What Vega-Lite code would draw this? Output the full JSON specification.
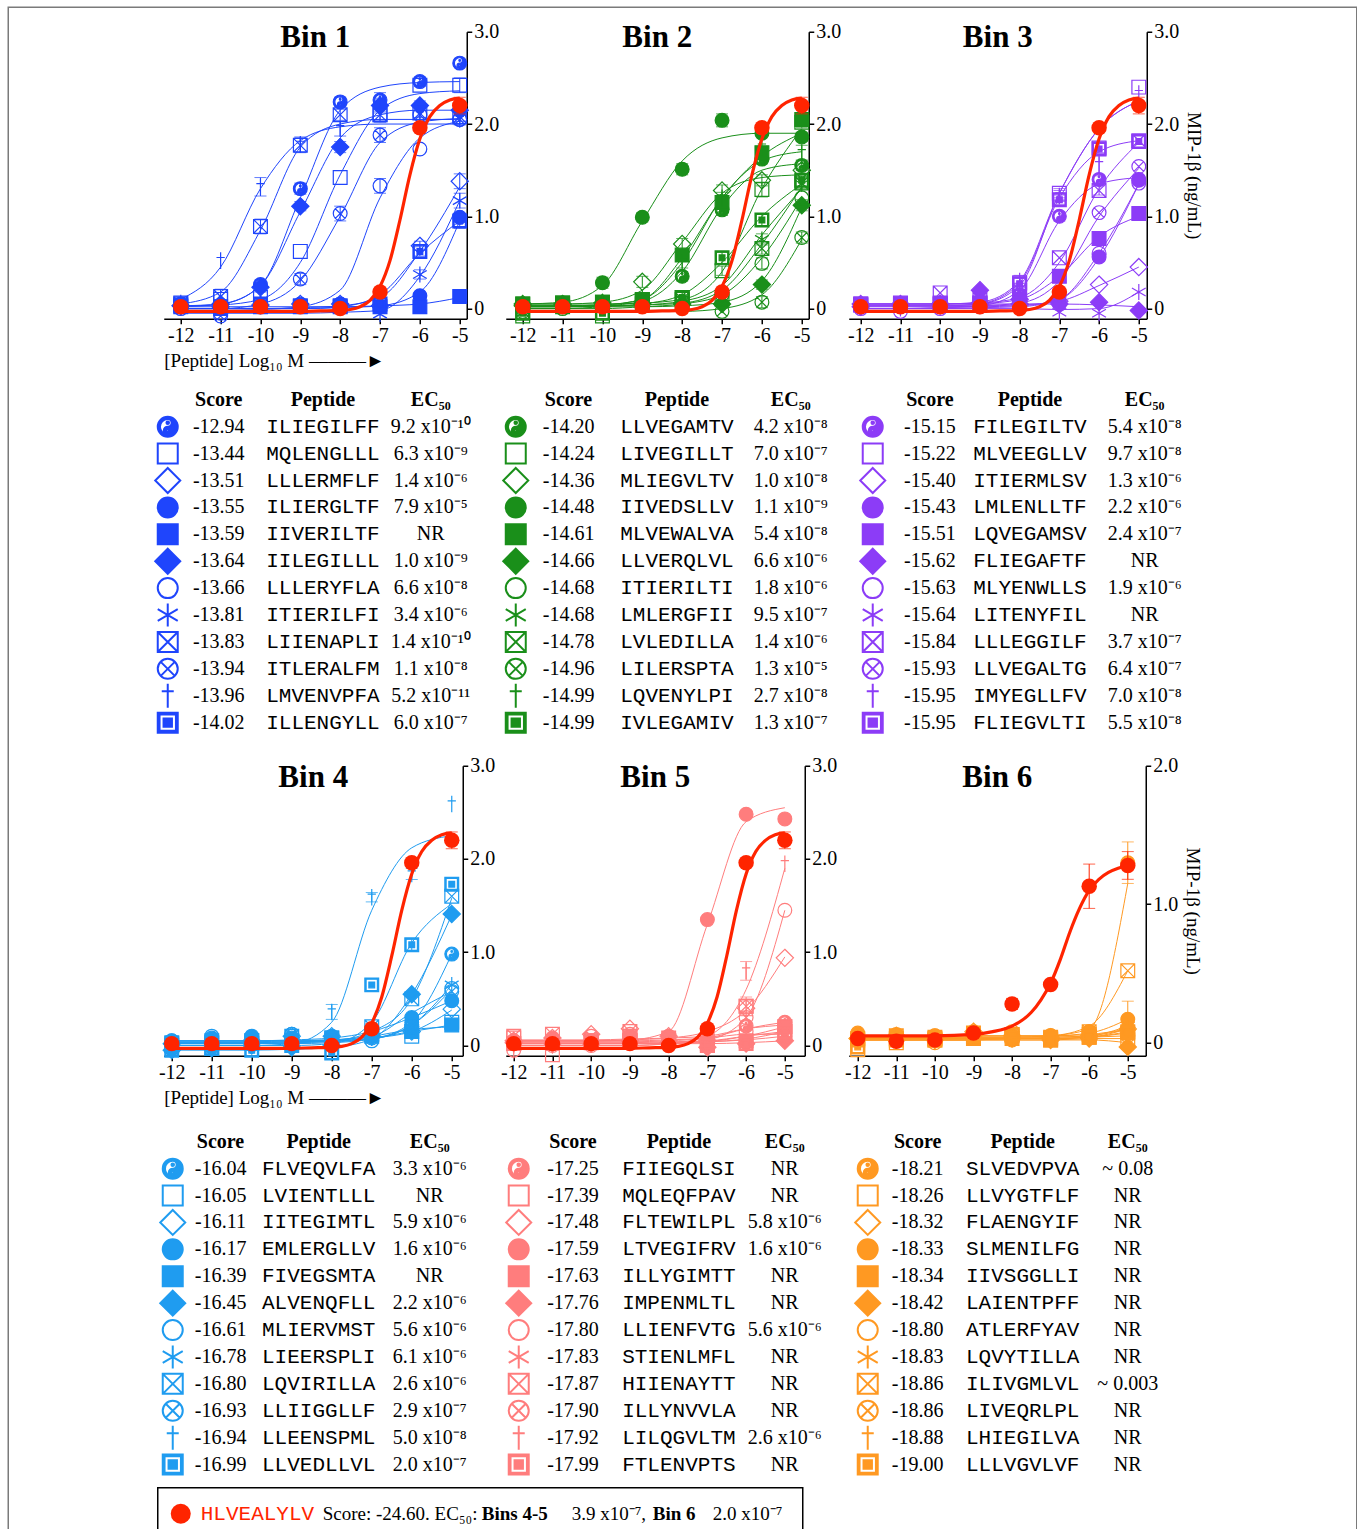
{
"$schema": "https://vega.github.io/schema/vega-lite/v6.json",
"background": "white",
"padding": {"left": 6.75, "top": 5.75, "right": 0, "bottom": 0},
"config": {
  "view": {"stroke": null},
  "axis": {"domainColor": "#000", "domainWidth": 1.5, "tickColor": "#000", "tickWidth": 1.5, "tickSize": 5, "labelFont": "Liberation Serif", "labelFontSize": 20, "labelColor": "#000", "labelPadding": 2, "grid": false, "titleFont": "Liberation Serif", "titleFontSize": 19, "titleFontWeight": "normal", "titleColor": "#000", "labelFlush": false, "labelOverlap": false},
  "text": {"font": "Liberation Serif", "fontSize": 20, "color": "#000"}
},
"datasets": {
"ref": [{"x":-12,"y":0.02},{"x":-11,"y":0.02},{"x":-10,"y":0.02},{"x":-9,"y":0.02},{"x":-8,"y":0.0},{"x":-7,"y":0.18},{"x":-6,"y":1.96},{"x":-5,"y":2.2,"e":0.09}],
"refc": [{"x":-12,"y":-0.03},{"x":-11,"y":-0.03},{"x":-10,"y":-0.03},{"x":-9,"y":-0.03},{"x":-8.5,"y":-0.025},{"x":-8,"y":-0.02},{"x":-7.75,"y":-0.01},{"x":-7.5,"y":0.02},{"x":-7.25,"y":0.09},{"x":-7,"y":0.24},{"x":-6.75,"y":0.52},{"x":-6.5,"y":0.96},{"x":-6.25,"y":1.45},{"x":-6,"y":1.84},{"x":-5.75,"y":2.08},{"x":-5.5,"y":2.2},{"x":-5.25,"y":2.26},{"x":-5,"y":2.28}],
"ref6": [{"x":-12,"y":0.03},{"x":-11,"y":0.01},{"x":-10,"y":0.02},{"x":-9,"y":0.07},{"x":-8,"y":0.28,"e":0.04},{"x":-7,"y":0.42},{"x":-6,"y":1.13,"e":0.16},{"x":-5,"y":1.28,"e":0.1}],
"refc6": [{"x":-12,"y":0.05},{"x":-11,"y":0.05},{"x":-10,"y":0.05},{"x":-9,"y":0.06},{"x":-8.5,"y":0.08},{"x":-8,"y":0.12},{"x":-7.75,"y":0.16},{"x":-7.5,"y":0.22},{"x":-7.25,"y":0.31},{"x":-7,"y":0.43},{"x":-6.75,"y":0.6},{"x":-6.5,"y":0.8},{"x":-6.25,"y":0.97},{"x":-6,"y":1.1},{"x":-5.75,"y":1.18},{"x":-5.5,"y":1.23},{"x":-5.25,"y":1.26},{"x":-5,"y":1.28}],
"b1": [
{"s":"yy","x":-12,"y":0.05,"f":0.03},{"s":"yy","x":-11,"y":0.04,"f":0.05},{"s":"yy","x":-10,"y":0.26,"f":0.25,"e":0.05},{"s":"yy","x":-9,"y":1.3,"f":1.2,"e":0.06},{"s":"yy","x":-8,"y":2.24,"f":2.15,"e":0.05},{"s":"yy","x":-7,"y":2.26,"f":2.4,"e":0.08},{"s":"yy","x":-6,"y":2.46,"f":2.45,"e":0.05},{"s":"yy","x":-5,"y":2.66,"f":2.46},
{"s":"osq","x":-12,"y":0.06,"f":0.03},{"s":"osq","x":-11,"y":0.1,"f":0.04},{"s":"osq","x":-10,"y":0.12,"f":0.1},{"s":"osq","x":-9,"y":0.62,"f":0.5},{"s":"osq","x":-8,"y":1.42,"f":1.45},{"s":"osq","x":-7,"y":2.1,"f":2.15,"e":0.08},{"s":"osq","x":-6,"y":2.42,"f":2.33},{"s":"osq","x":-5,"y":2.42,"f":2.36,"e":0.08},
{"s":"odi","x":-12,"y":0.03,"f":0},{"s":"odi","x":-11,"y":0.02,"f":0},{"s":"odi","x":-10,"y":0.04,"f":0},{"s":"odi","x":-9,"y":0.05,"f":0.01},{"s":"odi","x":-8,"y":0.05,"f":0.03},{"s":"odi","x":-7,"y":0.03,"f":0.12},{"s":"odi","x":-6,"y":0.68,"f":0.62,"e":0.05},{"s":"odi","x":-5,"y":1.38,"f":1.32,"e":0.08},
{"s":"fci","x":-12,"y":0.02,"f":0},{"s":"fci","x":-11,"y":0,"f":0},{"s":"fci","x":-10,"y":0.03,"f":0},{"s":"fci","x":-9,"y":0.04,"f":0},{"s":"fci","x":-8,"y":0.05,"f":0.01},{"s":"fci","x":-7,"y":0.02,"f":0.03},{"s":"fci","x":-6,"y":0.14,"f":0.18},{"s":"fci","x":-5,"y":0.99,"f":0.95},
{"s":"fsq","x":-12,"y":0.02,"f":0.02},{"s":"fsq","x":-11,"y":0,"f":0.02},{"s":"fsq","x":-10,"y":0.02,"f":0.02},{"s":"fsq","x":-9,"y":0.02,"f":0.02},{"s":"fsq","x":-8,"y":0.03,"f":0.02},{"s":"fsq","x":-7,"y":0.02,"f":0.03},{"s":"fsq","x":-6,"y":0.02,"f":0.05},{"s":"fsq","x":-5,"y":0.13,"f":0.12,"e":0.06},
{"s":"fdi","x":-12,"y":0.03,"f":0.02},{"s":"fdi","x":-11,"y":0.05,"f":0.05},{"s":"fdi","x":-10,"y":0.23,"f":0.25,"e":0.05},{"s":"fdi","x":-9,"y":1.11,"f":1.05,"e":0.05},{"s":"fdi","x":-8,"y":1.75,"f":1.85,"e":0.06},{"s":"fdi","x":-7,"y":2.2,"f":2.1,"e":0.06},{"s":"fdi","x":-6,"y":2.2,"f":2.15,"e":0.05},{"s":"fdi","x":-5,"y":2.15,"f":2.15,"e":0.05},
{"s":"oci","x":-12,"y":0.02,"f":-0.02},{"s":"oci","x":-11,"y":-0.05,"f":-0.02},{"s":"oci","x":-10,"y":0.02,"f":-0.01},{"s":"oci","x":-9,"y":0.05,"f":0.02},{"s":"oci","x":-8,"y":0.05,"f":0.2},{"s":"oci","x":-7,"y":1.33,"f":1.2,"e":0.08},{"s":"oci","x":-6,"y":1.73,"f":1.85},{"s":"oci","x":-5,"y":2.05,"f":2.03,"e":0.06},
{"s":"ast","x":-12,"y":0.02,"f":-0.05},{"s":"ast","x":-11,"y":0.05,"f":-0.05},{"s":"ast","x":-10,"y":0.04,"f":-0.05},{"s":"ast","x":-9,"y":0.03,"f":-0.05},{"s":"ast","x":-8,"y":0.02,"f":-0.04},{"s":"ast","x":-7,"y":-0.06,"f":-0.02},{"s":"ast","x":-6,"y":0.37,"f":0.35,"e":0.05},{"s":"ast","x":-5,"y":1.17,"f":1.17,"e":0.08},
{"s":"bx","x":-12,"y":0.05,"f":0.05},{"s":"bx","x":-11,"y":0.13,"f":0.18,"e":0.08},{"s":"bx","x":-10,"y":0.89,"f":0.85,"e":0.08},{"s":"bx","x":-9,"y":1.77,"f":1.75,"e":0.08},{"s":"bx","x":-8,"y":2.1,"f":2.0,"e":0.06},{"s":"bx","x":-7,"y":2.1,"f":2.05,"e":0.06},{"s":"bx","x":-6,"y":2.12,"f":2.05,"e":0.05},{"s":"bx","x":-5,"y":2.08,"f":2.05,"e":0.05},
{"s":"cx","x":-12,"y":0,"f":0},{"s":"cx","x":-11,"y":-0.08,"f":0},{"s":"cx","x":-10,"y":0.02,"f":0.05},{"s":"cx","x":-9,"y":0.32,"f":0.3,"e":0.06},{"s":"cx","x":-8,"y":1.03,"f":1.0,"e":0.08},{"s":"cx","x":-7,"y":1.88,"f":1.8,"e":0.08},{"s":"cx","x":-6,"y":2.1,"f":2.02,"e":0.05},{"s":"cx","x":-5,"y":2.05,"f":2.06,"e":0.05},
{"s":"dag","x":-12,"y":0.06,"f":0.1},{"s":"dag","x":-11,"y":0.52,"f":0.45},{"s":"dag","x":-10,"y":1.32,"f":1.3,"e":0.1},{"s":"dag","x":-9,"y":1.78,"f":1.82,"e":0.08},{"s":"dag","x":-8,"y":1.95,"f":1.97,"e":0.08},{"s":"dag","x":-7,"y":2.2,"f":2.0,"e":0.08},{"s":"dag","x":-6,"y":2.1,"f":2.0},{"s":"dag","x":-5,"y":2.05,"f":2.0},
{"s":"sqd","x":-12,"y":0.03,"f":0},{"s":"sqd","x":-11,"y":0.02,"f":0},{"s":"sqd","x":-10,"y":0.05,"f":0},{"s":"sqd","x":-9,"y":0.03,"f":0},{"s":"sqd","x":-8,"y":0.02,"f":0.02},{"s":"sqd","x":-7,"y":0.05,"f":0.15},{"s":"sqd","x":-6,"y":0.62,"f":0.6,"e":0.05},{"s":"sqd","x":-5,"y":0.95,"f":0.95,"e":0.08}
],
"b2": [
{"s":"yy","x":-12,"y":0.03,"f":0.02},{"s":"yy","x":-11,"y":0.05,"f":0.02},{"s":"yy","x":-10,"y":0.05,"f":0.03},{"s":"yy","x":-9,"y":0.08,"f":0.08},{"s":"yy","x":-8,"y":0.35,"f":0.4,"e":0.05},{"s":"yy","x":-7,"y":1.07,"f":1.1,"e":0.06},{"s":"yy","x":-6,"y":1.62,"f":1.5,"e":0.05},{"s":"yy","x":-5,"y":1.55,"f":1.57,"e":0.05},
{"s":"osq","x":-12,"y":-0.08,"f":0.05},{"s":"osq","x":-11,"y":0.05,"f":0.05},{"s":"osq","x":-10,"y":-0.08,"f":0.05},{"s":"osq","x":-9,"y":0.1,"f":0.06},{"s":"osq","x":-8,"y":0.12,"f":0.1},{"s":"osq","x":-7,"y":0.41,"f":0.4,"e":0.05},{"s":"osq","x":-6,"y":1.29,"f":1.3,"e":0.08},{"s":"osq","x":-5,"y":2.02,"f":1.95,"e":0.06},
{"s":"odi","x":-12,"y":0.05,"f":0.05},{"s":"odi","x":-11,"y":0.04,"f":0.05},{"s":"odi","x":-10,"y":0.06,"f":0.07},{"s":"odi","x":-9,"y":0.29,"f":0.2,"e":0.06},{"s":"odi","x":-8,"y":0.7,"f":0.72,"e":0.06},{"s":"odi","x":-7,"y":1.28,"f":1.25,"e":0.06},{"s":"odi","x":-6,"y":1.39,"f":1.42,"e":0.06},{"s":"odi","x":-5,"y":1.5,"f":1.45},
{"s":"fci","x":-12,"y":0.02,"f":0.05},{"s":"fci","x":-11,"y":0.06,"f":0.07},{"s":"fci","x":-10,"y":0.28,"f":0.25,"e":0.06},{"s":"fci","x":-9,"y":0.99,"f":0.95,"e":0.05},{"s":"fci","x":-8,"y":1.51,"f":1.6,"e":0.06},{"s":"fci","x":-7,"y":2.04,"f":1.85,"e":0.07},{"s":"fci","x":-6,"y":1.9,"f":1.9},{"s":"fci","x":-5,"y":1.86,"f":1.9,"e":0.05},
{"s":"fsq","x":-12,"y":0.05,"f":0.03},{"s":"fsq","x":-11,"y":0.06,"f":0.03},{"s":"fsq","x":-10,"y":0.07,"f":0.04},{"s":"fsq","x":-9,"y":0.1,"f":0.1},{"s":"fsq","x":-8,"y":0.58,"f":0.55,"e":0.05},{"s":"fsq","x":-7,"y":1.15,"f":1.2,"e":0.06},{"s":"fsq","x":-6,"y":1.69,"f":1.65,"e":0.05},{"s":"fsq","x":-5,"y":2.05,"f":1.9,"e":0.05},
{"s":"fdi","x":-12,"y":0.03,"f":0.02},{"s":"fdi","x":-11,"y":0.05,"f":0.02},{"s":"fdi","x":-10,"y":0.03,"f":0.02},{"s":"fdi","x":-9,"y":0.05,"f":0.02},{"s":"fdi","x":-8,"y":0.05,"f":0.03},{"s":"fdi","x":-7,"y":0.05,"f":0.07},{"s":"fdi","x":-6,"y":0.26,"f":0.3,"e":0.05},{"s":"fdi","x":-5,"y":1.12,"f":1.1,"e":0.06},
{"s":"oci","x":-12,"y":0,"f":0},{"s":"oci","x":-11,"y":0.02,"f":0},{"s":"oci","x":-10,"y":0.03,"f":0},{"s":"oci","x":-9,"y":0.05,"f":0.02},{"s":"oci","x":-8,"y":0.07,"f":0.05},{"s":"oci","x":-7,"y":0.15,"f":0.15},{"s":"oci","x":-6,"y":0.49,"f":0.55,"e":0.06},{"s":"oci","x":-5,"y":1.2,"f":1.2},
{"s":"ast","x":-12,"y":0.02,"f":0.02},{"s":"ast","x":-11,"y":0.04,"f":0.02},{"s":"ast","x":-10,"y":0.05,"f":0.03},{"s":"ast","x":-9,"y":0.08,"f":0.04},{"s":"ast","x":-8,"y":0.1,"f":0.08},{"s":"ast","x":-7,"y":0.12,"f":0.25},{"s":"ast","x":-6,"y":0.75,"f":0.8,"e":0.06},{"s":"ast","x":-5,"y":1.35,"f":1.3,"e":0.06},
{"s":"bx","x":-12,"y":0.05,"f":0.03},{"s":"bx","x":-11,"y":0.06,"f":0.03},{"s":"bx","x":-10,"y":0.07,"f":0.03},{"s":"bx","x":-9,"y":0.08,"f":0.04},{"s":"bx","x":-8,"y":0.1,"f":0.06},{"s":"bx","x":-7,"y":0.1,"f":0.2},{"s":"bx","x":-6,"y":0.65,"f":0.7,"e":0.06},{"s":"bx","x":-5,"y":1.36,"f":1.32,"e":0.06},
{"s":"cx","x":-12,"y":-0.03,"f":-0.03},{"s":"cx","x":-11,"y":0,"f":-0.03},{"s":"cx","x":-10,"y":0.02,"f":-0.03},{"s":"cx","x":-9,"y":0.05,"f":-0.03},{"s":"cx","x":-8,"y":0.02,"f":-0.03},{"s":"cx","x":-7,"y":-0.03,"f":0},{"s":"cx","x":-6,"y":0.07,"f":0.15,"e":0.06},{"s":"cx","x":-5,"y":0.77,"f":0.75,"e":0.06},
{"s":"dag","x":-12,"y":0.05,"f":0.03},{"s":"dag","x":-11,"y":0.05,"f":0.03},{"s":"dag","x":-10,"y":0.07,"f":0.04},{"s":"dag","x":-9,"y":0.1,"f":0.1},{"s":"dag","x":-8,"y":0.5,"f":0.5,"e":0.06},{"s":"dag","x":-7,"y":1.2,"f":1.2,"e":0.06},{"s":"dag","x":-6,"y":1.75,"f":1.6},{"s":"dag","x":-5,"y":1.69,"f":1.7,"e":0.08},
{"s":"sqd","x":-12,"y":-0.05,"f":0},{"s":"sqd","x":-11,"y":0.02,"f":0},{"s":"sqd","x":-10,"y":-0.05,"f":0.02},{"s":"sqd","x":-9,"y":0.05,"f":0.05},{"s":"sqd","x":-8,"y":0.12,"f":0.15},{"s":"sqd","x":-7,"y":0.55,"f":0.5,"e":0.06},{"s":"sqd","x":-6,"y":0.96,"f":1.0,"e":0.06},{"s":"sqd","x":-5,"y":1.39,"f":1.35}
],
"b3": [
{"s":"yy","x":-12,"y":0.03,"f":0},{"s":"yy","x":-11,"y":0.02,"f":0},{"s":"yy","x":-10,"y":0.02,"f":0.01},{"s":"yy","x":-9,"y":0.05,"f":0.03},{"s":"yy","x":-8,"y":0.15,"f":0.2},{"s":"yy","x":-7,"y":1.0,"f":0.95,"e":0.05},{"s":"yy","x":-6,"y":1.4,"f":1.35},{"s":"yy","x":-5,"y":1.4,"f":1.42},
{"s":"osq","x":-12,"y":0.05,"f":0.03},{"s":"osq","x":-11,"y":0.06,"f":0.03},{"s":"osq","x":-10,"y":0.05,"f":0.03},{"s":"osq","x":-9,"y":0.06,"f":0.05},{"s":"osq","x":-8,"y":0.28,"f":0.25,"e":0.05},{"s":"osq","x":-7,"y":1.25,"f":1.25,"e":0.05},{"s":"osq","x":-6,"y":1.74,"f":1.95,"e":0.05},{"s":"osq","x":-5,"y":2.4,"f":2.25},
{"s":"odi","x":-12,"y":0.05,"f":0.03},{"s":"odi","x":-11,"y":0.04,"f":0.03},{"s":"odi","x":-10,"y":0.05,"f":0.03},{"s":"odi","x":-9,"y":0.06,"f":0.03},{"s":"odi","x":-8,"y":0.05,"f":0.04},{"s":"odi","x":-7,"y":0.08,"f":0.08},{"s":"odi","x":-6,"y":0.26,"f":0.25},{"s":"odi","x":-5,"y":0.45,"f":0.45},
{"s":"fci","x":-12,"y":0.02,"f":0},{"s":"fci","x":-11,"y":0.03,"f":0},{"s":"fci","x":-10,"y":0.03,"f":0.01},{"s":"fci","x":-9,"y":0.05,"f":0.02},{"s":"fci","x":-8,"y":0.05,"f":0.03},{"s":"fci","x":-7,"y":0.08,"f":0.1},{"s":"fci","x":-6,"y":0.56,"f":0.55,"e":0.05},{"s":"fci","x":-5,"y":1.39,"f":1.35,"e":0.05},
{"s":"fsq","x":-12,"y":0.04,"f":0.03},{"s":"fsq","x":-11,"y":0.05,"f":0.03},{"s":"fsq","x":-10,"y":0.06,"f":0.03},{"s":"fsq","x":-9,"y":0.05,"f":0.05},{"s":"fsq","x":-8,"y":0.1,"f":0.1},{"s":"fsq","x":-7,"y":0.35,"f":0.35},{"s":"fsq","x":-6,"y":0.76,"f":0.78},{"s":"fsq","x":-5,"y":1.03,"f":1.0},
{"s":"fdi","x":-12,"y":0.02,"f":0.05},{"s":"fdi","x":-11,"y":0.05,"f":0.05},{"s":"fdi","x":-10,"y":0.05,"f":0.05},{"s":"fdi","x":-9,"y":0.2,"f":0.05},{"s":"fdi","x":-8,"y":0.1,"f":0.05},{"s":"fdi","x":-7,"y":0.05,"f":0.05},{"s":"fdi","x":-6,"y":0.07,"f":0.04},{"s":"fdi","x":-5,"y":-0.02,"f":0.02},
{"s":"oci","x":-12,"y":0,"f":0},{"s":"oci","x":-11,"y":-0.03,"f":0},{"s":"oci","x":-10,"y":0,"f":0},{"s":"oci","x":-9,"y":0.02,"f":0.01},{"s":"oci","x":-8,"y":0.05,"f":0.02},{"s":"oci","x":-7,"y":0.05,"f":0.1},{"s":"oci","x":-6,"y":0.6,"f":0.6},{"s":"oci","x":-5,"y":1.36,"f":1.35},
{"s":"ast","x":-12,"y":0.02,"f":0},{"s":"ast","x":-11,"y":0,"f":0},{"s":"ast","x":-10,"y":0.02,"f":0},{"s":"ast","x":-9,"y":0.05,"f":0},{"s":"ast","x":-8,"y":0.02,"f":0},{"s":"ast","x":-7,"y":-0.04,"f":-0.01},{"s":"ast","x":-6,"y":-0.05,"f":0},{"s":"ast","x":-5,"y":0.18,"f":0.18},
{"s":"bx","x":-12,"y":0.05,"f":0.05},{"s":"bx","x":-11,"y":0.05,"f":0.05},{"s":"bx","x":-10,"y":0.17,"f":0.05},{"s":"bx","x":-9,"y":0.1,"f":0.06},{"s":"bx","x":-8,"y":0.2,"f":0.12},{"s":"bx","x":-7,"y":0.55,"f":0.5},{"s":"bx","x":-6,"y":1.28,"f":1.3,"e":0.05},{"s":"bx","x":-5,"y":1.82,"f":1.8},
{"s":"cx","x":-12,"y":0.02,"f":0.02},{"s":"cx","x":-11,"y":0.03,"f":0.02},{"s":"cx","x":-10,"y":0.04,"f":0.02},{"s":"cx","x":-9,"y":0.05,"f":0.03},{"s":"cx","x":-8,"y":0.08,"f":0.06},{"s":"cx","x":-7,"y":0.15,"f":0.3},{"s":"cx","x":-6,"y":1.04,"f":1.0},{"s":"cx","x":-5,"y":1.54,"f":1.52},
{"s":"dag","x":-12,"y":0.05,"f":0.05},{"s":"dag","x":-11,"y":0.04,"f":0.05},{"s":"dag","x":-10,"y":0.05,"f":0.05},{"s":"dag","x":-9,"y":0.06,"f":0.07},{"s":"dag","x":-8,"y":0.3,"f":0.3,"e":0.06},{"s":"dag","x":-7,"y":1.22,"f":1.25,"e":0.06},{"s":"dag","x":-6,"y":1.56,"f":1.95,"e":0.12},{"s":"dag","x":-5,"y":2.33,"f":2.25},
{"s":"sqd","x":-12,"y":0.04,"f":0.05},{"s":"sqd","x":-11,"y":0.05,"f":0.05},{"s":"sqd","x":-10,"y":0.05,"f":0.05},{"s":"sqd","x":-9,"y":0.06,"f":0.06},{"s":"sqd","x":-8,"y":0.27,"f":0.28},{"s":"sqd","x":-7,"y":1.18,"f":1.2,"e":0.05},{"s":"sqd","x":-6,"y":1.73,"f":1.7},{"s":"sqd","x":-5,"y":1.81,"f":1.82}
],
"b4": [
{"s":"yy","x":-12,"y":0.03,"f":0.02},{"s":"yy","x":-11,"y":0.05,"f":0.02},{"s":"yy","x":-10,"y":0.04,"f":0.02},{"s":"yy","x":-9,"y":0.03,"f":0.02},{"s":"yy","x":-8,"y":0.05,"f":0.03},{"s":"yy","x":-7,"y":0.1,"f":0.07},{"s":"yy","x":-6,"y":0.25,"f":0.25},{"s":"yy","x":-5,"y":0.98,"f":0.98},
{"s":"osq","x":-12,"y":0,"f":0.03},{"s":"osq","x":-11,"y":-0.03,"f":0.03},{"s":"osq","x":-10,"y":0.02,"f":0.03},{"s":"osq","x":-9,"y":0.05,"f":0.04},{"s":"osq","x":-8,"y":0.08,"f":0.05},{"s":"osq","x":-7,"y":0.12,"f":0.08},{"s":"osq","x":-6,"y":0.1,"f":0.15},{"s":"osq","x":-5,"y":0.25,"f":0.22},
{"s":"odi","x":-12,"y":0.02,"f":0.03},{"s":"odi","x":-11,"y":0.03,"f":0.03},{"s":"odi","x":-10,"y":0.05,"f":0.03},{"s":"odi","x":-9,"y":0.1,"f":0.04},{"s":"odi","x":-8,"y":0.1,"f":0.05},{"s":"odi","x":-7,"y":0.1,"f":0.08},{"s":"odi","x":-6,"y":0.15,"f":0.15},{"s":"odi","x":-5,"y":0.39,"f":0.38},
{"s":"fci","x":-12,"y":0.05,"f":0.05},{"s":"fci","x":-11,"y":0.08,"f":0.05},{"s":"fci","x":-10,"y":0.1,"f":0.05},{"s":"fci","x":-9,"y":0.08,"f":0.06},{"s":"fci","x":-8,"y":0.1,"f":0.08},{"s":"fci","x":-7,"y":0.15,"f":0.15},{"s":"fci","x":-6,"y":0.3,"f":0.3},{"s":"fci","x":-5,"y":0.48,"f":0.48},
{"s":"fsq","x":-12,"y":0.03,"f":0.04},{"s":"fsq","x":-11,"y":0.05,"f":0.04},{"s":"fsq","x":-10,"y":0.05,"f":0.04},{"s":"fsq","x":-9,"y":0.03,"f":0.05},{"s":"fsq","x":-8,"y":0.05,"f":0.06},{"s":"fsq","x":-7,"y":0.1,"f":0.1},{"s":"fsq","x":-6,"y":0.15,"f":0.17},{"s":"fsq","x":-5,"y":0.22,"f":0.2},
{"s":"fdi","x":-12,"y":-0.05,"f":-0.05},{"s":"fdi","x":-11,"y":-0.03,"f":-0.05},{"s":"fdi","x":-10,"y":0,"f":-0.05},{"s":"fdi","x":-9,"y":-0.02,"f":-0.04},{"s":"fdi","x":-8,"y":0,"f":-0.02},{"s":"fdi","x":-7,"y":0.1,"f":0.07},{"s":"fdi","x":-6,"y":0.55,"f":0.55},{"s":"fdi","x":-5,"y":1.41,"f":1.4},
{"s":"oci","x":-12,"y":0.05,"f":0.05},{"s":"oci","x":-11,"y":0.1,"f":0.05},{"s":"oci","x":-10,"y":0.05,"f":0.05},{"s":"oci","x":-9,"y":0.12,"f":0.05},{"s":"oci","x":-8,"y":0.08,"f":0.05},{"s":"oci","x":-7,"y":0.05,"f":0.07},{"s":"oci","x":-6,"y":0.2,"f":0.22},{"s":"oci","x":-5,"y":0.61,"f":0.6},
{"s":"ast","x":-12,"y":0.02,"f":0.02},{"s":"ast","x":-11,"y":0,"f":0.02},{"s":"ast","x":-10,"y":0.03,"f":0.02},{"s":"ast","x":-9,"y":0.05,"f":0.03},{"s":"ast","x":-8,"y":0.05,"f":0.04},{"s":"ast","x":-7,"y":0.08,"f":0.07},{"s":"ast","x":-6,"y":0.2,"f":0.22},{"s":"ast","x":-5,"y":0.65,"f":0.65},
{"s":"bx","x":-12,"y":0.02,"f":0.02},{"s":"bx","x":-11,"y":0.03,"f":0.02},{"s":"bx","x":-10,"y":0.05,"f":0.02},{"s":"bx","x":-9,"y":0.1,"f":0.03},{"s":"bx","x":-8,"y":0.08,"f":0.05},{"s":"bx","x":-7,"y":0.2,"f":0.15},{"s":"bx","x":-6,"y":0.5,"f":0.5},{"s":"bx","x":-5,"y":1.6,"f":1.58},
{"s":"cx","x":-12,"y":0,"f":0.05},{"s":"cx","x":-11,"y":0.05,"f":0.05},{"s":"cx","x":-10,"y":0.08,"f":0.05},{"s":"cx","x":-9,"y":0.12,"f":0.05},{"s":"cx","x":-8,"y":0.05,"f":0.06},{"s":"cx","x":-7,"y":0.08,"f":0.1},{"s":"cx","x":-6,"y":0.2,"f":0.35},{"s":"cx","x":-5,"y":0.58,"f":0.58},
{"s":"dag","x":-12,"y":0,"f":0},{"s":"dag","x":-11,"y":0.05,"f":0},{"s":"dag","x":-10,"y":0.08,"f":0},{"s":"dag","x":-9,"y":-0.02,"f":0.02},{"s":"dag","x":-8,"y":0.36,"f":0.25,"e":0.08},{"s":"dag","x":-7,"y":1.59,"f":1.45,"e":0.05},{"s":"dag","x":-6,"y":1.84,"f":2.12,"e":0.06},{"s":"dag","x":-5,"y":2.59,"f":2.25},
{"s":"sqd","x":-12,"y":-0.05,"f":0},{"s":"sqd","x":-11,"y":-0.03,"f":0},{"s":"sqd","x":-10,"y":-0.05,"f":0},{"s":"sqd","x":-9,"y":0,"f":0},{"s":"sqd","x":-8,"y":-0.08,"f":0.02},{"s":"sqd","x":-7,"y":0.65,"f":0.25},{"s":"sqd","x":-6,"y":1.08,"f":1.1,"e":0.06},{"s":"sqd","x":-5,"y":1.73,"f":1.52}
],
"b5": [
{"s":"yy","x":-12,"y":0.05,"f":0.04},{"s":"yy","x":-11,"y":0.02,"f":0.04},{"s":"yy","x":-10,"y":0.03,"f":0.04},{"s":"yy","x":-9,"y":0.06,"f":0.04},{"s":"yy","x":-8,"y":0.05,"f":0.05},{"s":"yy","x":-7,"y":0.05,"f":0.08},{"s":"yy","x":-6,"y":0.21,"f":0.18},{"s":"yy","x":-5,"y":0.25,"f":0.25},
{"s":"osq","x":-12,"y":0.08,"f":0.03},{"s":"osq","x":-11,"y":-0.1,"f":0.03},{"s":"osq","x":-10,"y":0.05,"f":0.03},{"s":"osq","x":-9,"y":0.1,"f":0.03},{"s":"osq","x":-8,"y":0.05,"f":0.04},{"s":"osq","x":-7,"y":0,"f":0.05},{"s":"osq","x":-6,"y":0.42,"f":0.1},{"s":"osq","x":-5,"y":0.15,"f":0.15},
{"s":"odi","x":-12,"y":0.05,"f":0.05},{"s":"odi","x":-11,"y":0.08,"f":0.05},{"s":"odi","x":-10,"y":0.12,"f":0.05},{"s":"odi","x":-9,"y":0.18,"f":0.06},{"s":"odi","x":-8,"y":0.1,"f":0.08},{"s":"odi","x":-7,"y":0.05,"f":0.15},{"s":"odi","x":-6,"y":0.4,"f":0.38,"e":0.08},{"s":"odi","x":-5,"y":0.94,"f":0.95},
{"s":"fci","x":-12,"y":0.05,"f":0.05},{"s":"fci","x":-11,"y":0.08,"f":0.05},{"s":"fci","x":-10,"y":0.05,"f":0.05},{"s":"fci","x":-9,"y":0.1,"f":0.06},{"s":"fci","x":-8,"y":0.1,"f":0.15},{"s":"fci","x":-7,"y":1.35,"f":1.3},{"s":"fci","x":-6,"y":2.48,"f":2.4},{"s":"fci","x":-5,"y":2.43,"f":2.55},
{"s":"fsq","x":-12,"y":0.02,"f":0.02},{"s":"fsq","x":-11,"y":0.03,"f":0.02},{"s":"fsq","x":-10,"y":0.04,"f":0.02},{"s":"fsq","x":-9,"y":0.05,"f":0.02},{"s":"fsq","x":-8,"y":0.05,"f":0.02},{"s":"fsq","x":-7,"y":0.02,"f":0.04},{"s":"fsq","x":-6,"y":0.05,"f":0.1},{"s":"fsq","x":-5,"y":0.2,"f":0.2},
{"s":"fdi","x":-12,"y":0.03,"f":0.02},{"s":"fdi","x":-11,"y":0.02,"f":0.02},{"s":"fdi","x":-10,"y":0.02,"f":0.02},{"s":"fdi","x":-9,"y":0.05,"f":0.02},{"s":"fdi","x":-8,"y":0.03,"f":0.02},{"s":"fdi","x":-7,"y":-0.02,"f":0.02},{"s":"fdi","x":-6,"y":0.02,"f":0.03},{"s":"fdi","x":-5,"y":0.05,"f":0.05},
{"s":"oci","x":-12,"y":-0.05,"f":0},{"s":"oci","x":-11,"y":0,"f":0},{"s":"oci","x":-10,"y":0,"f":0},{"s":"oci","x":-9,"y":0.05,"f":0},{"s":"oci","x":-8,"y":0.08,"f":0.02},{"s":"oci","x":-7,"y":0.02,"f":0.06},{"s":"oci","x":-6,"y":0.15,"f":0.3},{"s":"oci","x":-5,"y":1.45,"f":1.45},
{"s":"ast","x":-12,"y":0,"f":0.02},{"s":"ast","x":-11,"y":0.02,"f":0.02},{"s":"ast","x":-10,"y":0.02,"f":0.02},{"s":"ast","x":-9,"y":0.03,"f":0.02},{"s":"ast","x":-8,"y":0.05,"f":0.03},{"s":"ast","x":-7,"y":0.03,"f":0.04},{"s":"ast","x":-6,"y":0.05,"f":0.06},{"s":"ast","x":-5,"y":0.1,"f":0.1},
{"s":"bx","x":-12,"y":0.1,"f":0.06},{"s":"bx","x":-11,"y":0.12,"f":0.06},{"s":"bx","x":-10,"y":0.05,"f":0.06},{"s":"bx","x":-9,"y":0.15,"f":0.07},{"s":"bx","x":-8,"y":0.08,"f":0.08},{"s":"bx","x":-7,"y":0.05,"f":0.1},{"s":"bx","x":-6,"y":0.42,"f":0.18,"e":0.1},{"s":"bx","x":-5,"y":0.2,"f":0.22},
{"s":"cx","x":-12,"y":0.03,"f":0.05},{"s":"cx","x":-11,"y":0.05,"f":0.05},{"s":"cx","x":-10,"y":0.1,"f":0.05},{"s":"cx","x":-9,"y":0.12,"f":0.05},{"s":"cx","x":-8,"y":0.05,"f":0.06},{"s":"cx","x":-7,"y":0.05,"f":0.08},{"s":"cx","x":-6,"y":0.3,"f":0.12},{"s":"cx","x":-5,"y":0.1,"f":0.12},
{"s":"dag","x":-12,"y":-0.05,"f":0},{"s":"dag","x":-11,"y":0,"f":0},{"s":"dag","x":-10,"y":0.02,"f":0},{"s":"dag","x":-9,"y":0.05,"f":0},{"s":"dag","x":-8,"y":0.05,"f":0.02},{"s":"dag","x":-7,"y":0.05,"f":0.1},{"s":"dag","x":-6,"y":0.8,"f":0.6,"e":0.1},{"s":"dag","x":-5,"y":1.95,"f":1.9},
{"s":"sqd","x":-12,"y":0.02,"f":0.02},{"s":"sqd","x":-11,"y":0.02,"f":0.02},{"s":"sqd","x":-10,"y":0.03,"f":0.02},{"s":"sqd","x":-9,"y":0.05,"f":0.02},{"s":"sqd","x":-8,"y":0.05,"f":0.03},{"s":"sqd","x":-7,"y":0,"f":0.04},{"s":"sqd","x":-6,"y":0.02,"f":0.07},{"s":"sqd","x":-5,"y":0.15,"f":0.15}
],
"b6": [
{"s":"yy","x":-12,"y":0.05,"f":0.04},{"s":"yy","x":-11,"y":0.05,"f":0.04},{"s":"yy","x":-10,"y":0.03,"f":0.04},{"s":"yy","x":-9,"y":0.05,"f":0.04},{"s":"yy","x":-8,"y":0.04,"f":0.04},{"s":"yy","x":-7,"y":0.05,"f":0.05},{"s":"yy","x":-6,"y":0.08,"f":0.1},{"s":"yy","x":-5,"y":1.3,"f":1.15,"e":0.15},
{"s":"osq","x":-12,"y":-0.05,"f":0.02},{"s":"osq","x":-11,"y":0,"f":0.02},{"s":"osq","x":-10,"y":0.02,"f":0.02},{"s":"osq","x":-9,"y":0.03,"f":0.02},{"s":"osq","x":-8,"y":0.05,"f":0.02},{"s":"osq","x":-7,"y":0.02,"f":0.02},{"s":"osq","x":-6,"y":0.06,"f":0.03},{"s":"osq","x":-5,"y":0.02,"f":0.03},
{"s":"odi","x":-12,"y":0.03,"f":0.04},{"s":"odi","x":-11,"y":0.05,"f":0.04},{"s":"odi","x":-10,"y":0.03,"f":0.04},{"s":"odi","x":-9,"y":0.08,"f":0.04},{"s":"odi","x":-8,"y":0.05,"f":0.04},{"s":"odi","x":-7,"y":0.04,"f":0.04},{"s":"odi","x":-6,"y":0.05,"f":0.05},{"s":"odi","x":-5,"y":0.1,"f":0.1},
{"s":"fci","x":-12,"y":0.07,"f":0.05},{"s":"fci","x":-11,"y":0.06,"f":0.05},{"s":"fci","x":-10,"y":0.05,"f":0.05},{"s":"fci","x":-9,"y":0.08,"f":0.05},{"s":"fci","x":-8,"y":0.05,"f":0.05},{"s":"fci","x":-7,"y":0.05,"f":0.05},{"s":"fci","x":-6,"y":0.08,"f":0.07},{"s":"fci","x":-5,"y":0.17,"f":0.17,"e":0.13},
{"s":"fsq","x":-12,"y":0.02,"f":0.02},{"s":"fsq","x":-11,"y":0.03,"f":0.02},{"s":"fsq","x":-10,"y":0.02,"f":0.02},{"s":"fsq","x":-9,"y":0.03,"f":0.02},{"s":"fsq","x":-8,"y":0.03,"f":0.03},{"s":"fsq","x":-7,"y":0.03,"f":0.03},{"s":"fsq","x":-6,"y":0.04,"f":0.04},{"s":"fsq","x":-5,"y":0.08,"f":0.08},
{"s":"fdi","x":-12,"y":0.03,"f":0.02},{"s":"fdi","x":-11,"y":0.02,"f":0.02},{"s":"fdi","x":-10,"y":0.02,"f":0.02},{"s":"fdi","x":-9,"y":0.05,"f":0.02},{"s":"fdi","x":-8,"y":0.03,"f":0.02},{"s":"fdi","x":-7,"y":0.02,"f":0.02},{"s":"fdi","x":-6,"y":0.03,"f":0.02},{"s":"fdi","x":-5,"y":-0.03,"f":0},
{"s":"oci","x":-12,"y":0.04,"f":0.03},{"s":"oci","x":-11,"y":0.05,"f":0.03},{"s":"oci","x":-10,"y":0,"f":0.03},{"s":"oci","x":-9,"y":0.03,"f":0.03},{"s":"oci","x":-8,"y":0.02,"f":0.03},{"s":"oci","x":-7,"y":0.03,"f":0.03},{"s":"oci","x":-6,"y":0.05,"f":0.04},{"s":"oci","x":-5,"y":0.05,"f":0.05},
{"s":"ast","x":-12,"y":0.02,"f":0.03},{"s":"ast","x":-11,"y":0.04,"f":0.03},{"s":"ast","x":-10,"y":0.03,"f":0.03},{"s":"ast","x":-9,"y":0.05,"f":0.03},{"s":"ast","x":-8,"y":0.03,"f":0.03},{"s":"ast","x":-7,"y":0.04,"f":0.04},{"s":"ast","x":-6,"y":0.06,"f":0.05},{"s":"ast","x":-5,"y":0.12,"f":0.12},
{"s":"bx","x":-12,"y":0.03,"f":0.04},{"s":"bx","x":-11,"y":0.05,"f":0.04},{"s":"bx","x":-10,"y":0.04,"f":0.04},{"s":"bx","x":-9,"y":0.07,"f":0.04},{"s":"bx","x":-8,"y":0.06,"f":0.04},{"s":"bx","x":-7,"y":0.04,"f":0.05},{"s":"bx","x":-6,"y":0.08,"f":0.12},{"s":"bx","x":-5,"y":0.52,"f":0.52},
{"s":"cx","x":-12,"y":0.05,"f":0.05},{"s":"cx","x":-11,"y":0.03,"f":0.05},{"s":"cx","x":-10,"y":0.05,"f":0.05},{"s":"cx","x":-9,"y":0.07,"f":0.05},{"s":"cx","x":-8,"y":0.08,"f":0.05},{"s":"cx","x":-7,"y":0.05,"f":0.05},{"s":"cx","x":-6,"y":0.04,"f":0.06},{"s":"cx","x":-5,"y":0.1,"f":0.1},
{"s":"dag","x":-12,"y":0.02,"f":0.03},{"s":"dag","x":-11,"y":0.03,"f":0.03},{"s":"dag","x":-10,"y":0.03,"f":0.03},{"s":"dag","x":-9,"y":0.05,"f":0.03},{"s":"dag","x":-8,"y":0.04,"f":0.03},{"s":"dag","x":-7,"y":0.03,"f":0.03},{"s":"dag","x":-6,"y":0.05,"f":0.04},{"s":"dag","x":-5,"y":0.1,"f":0.1},
{"s":"sqd","x":-12,"y":-0.03,"f":0.02},{"s":"sqd","x":-11,"y":0.02,"f":0.02},{"s":"sqd","x":-10,"y":0.03,"f":0.02},{"s":"sqd","x":-9,"y":0.05,"f":0.02},{"s":"sqd","x":-8,"y":0.06,"f":0.03},{"s":"sqd","x":-7,"y":0.02,"f":0.03},{"s":"sqd","x":-6,"y":0.04,"f":0.04},{"s":"sqd","x":-5,"y":0.07,"f":0.07}
],
"t1": [
{"r":0,"s":"hdr","sc":"Score","p":"Peptide","ec":"EC₅₀"},
{"r":1,"s":"yy","sc":"-12.94","p":"ILIEGILFF","ec":"9.2 x10⁻¹⁰"},{"r":2,"s":"osq","sc":"-13.44","p":"MQLENGLLL","ec":"6.3 x10⁻⁹"},{"r":3,"s":"odi","sc":"-13.51","p":"LLLERMFLF","ec":"1.4 x10⁻⁶"},{"r":4,"s":"fci","sc":"-13.55","p":"ILIERGLTF","ec":"7.9 x10⁻⁵"},{"r":5,"s":"fsq","sc":"-13.59","p":"IIVERILTF","ec":"NR"},{"r":6,"s":"fdi","sc":"-13.64","p":"IILEGILLL","ec":"1.0 x10⁻⁹"},{"r":7,"s":"oci","sc":"-13.66","p":"LLLERYFLA","ec":"6.6 x10⁻⁸"},{"r":8,"s":"ast","sc":"-13.81","p":"ITIERILFI","ec":"3.4 x10⁻⁶"},{"r":9,"s":"bx","sc":"-13.83","p":"LIIENAPLI","ec":"1.4 x10⁻¹⁰"},{"r":10,"s":"cx","sc":"-13.94","p":"ITLERALFM","ec":"1.1 x10⁻⁸"},{"r":11,"s":"dag","sc":"-13.96","p":"LMVENVPFA","ec":"5.2 x10⁻¹¹"},{"r":12,"s":"sqd","sc":"-14.02","p":"ILLENGYLL","ec":"6.0 x10⁻⁷"}
],
"t2": [
{"r":0,"s":"hdr","sc":"Score","p":"Peptide","ec":"EC₅₀"},
{"r":1,"s":"yy","sc":"-14.20","p":"LLVEGAMTV","ec":"4.2 x10⁻⁸"},{"r":2,"s":"osq","sc":"-14.24","p":"LIVEGILLT","ec":"7.0 x10⁻⁷"},{"r":3,"s":"odi","sc":"-14.36","p":"MLIEGVLTV","ec":"1.0 x10⁻⁸"},{"r":4,"s":"fci","sc":"-14.48","p":"IIVEDSLLV","ec":"1.1 x10⁻⁹"},{"r":5,"s":"fsq","sc":"-14.61","p":"MLVEWALVA","ec":"5.4 x10⁻⁸"},{"r":6,"s":"fdi","sc":"-14.66","p":"LLVERQLVL","ec":"6.6 x10⁻⁶"},{"r":7,"s":"oci","sc":"-14.68","p":"ITIERILTI","ec":"1.8 x10⁻⁶"},{"r":8,"s":"ast","sc":"-14.68","p":"LMLERGFII","ec":"9.5 x10⁻⁷"},{"r":9,"s":"bx","sc":"-14.78","p":"LVLEDILLA","ec":"1.4 x10⁻⁶"},{"r":10,"s":"cx","sc":"-14.96","p":"LILERSPTA","ec":"1.3 x10⁻⁵"},{"r":11,"s":"dag","sc":"-14.99","p":"LQVENYLPI","ec":"2.7 x10⁻⁸"},{"r":12,"s":"sqd","sc":"-14.99","p":"IVLEGAMIV","ec":"1.3 x10⁻⁷"}
],
"t3": [
{"r":0,"s":"hdr","sc":"Score","p":"Peptide","ec":"EC₅₀"},
{"r":1,"s":"yy","sc":"-15.15","p":"FILEGILTV","ec":"5.4 x10⁻⁸"},{"r":2,"s":"osq","sc":"-15.22","p":"MLVEEGLLV","ec":"9.7 x10⁻⁸"},{"r":3,"s":"odi","sc":"-15.40","p":"ITIERMLSV","ec":"1.3 x10⁻⁶"},{"r":4,"s":"fci","sc":"-15.43","p":"LMLENLLTF","ec":"2.2 x10⁻⁶"},{"r":5,"s":"fsq","sc":"-15.51","p":"LQVEGAMSV","ec":"2.4 x10⁻⁷"},{"r":6,"s":"fdi","sc":"-15.62","p":"FLIEGAFTF","ec":"NR"},{"r":7,"s":"oci","sc":"-15.63","p":"MLYENWLLS","ec":"1.9 x10⁻⁶"},{"r":8,"s":"ast","sc":"-15.64","p":"LITENYFIL","ec":"NR"},{"r":9,"s":"bx","sc":"-15.84","p":"LLLEGGILF","ec":"3.7 x10⁻⁷"},{"r":10,"s":"cx","sc":"-15.93","p":"LLVEGALTG","ec":"6.4 x10⁻⁷"},{"r":11,"s":"dag","sc":"-15.95","p":"IMYEGLLFV","ec":"7.0 x10⁻⁸"},{"r":12,"s":"sqd","sc":"-15.95","p":"FLIEGVLTI","ec":"5.5 x10⁻⁸"}
],
"t4": [
{"r":0,"s":"hdr","sc":"Score","p":"Peptide","ec":"EC₅₀"},
{"r":1,"s":"yy","sc":"-16.04","p":"FLVEQVLFA","ec":"3.3 x10⁻⁶"},{"r":2,"s":"osq","sc":"-16.05","p":"LVIENTLLL","ec":"NR"},{"r":3,"s":"odi","sc":"-16.11","p":"IITEGIMTL","ec":"5.9 x10⁻⁶"},{"r":4,"s":"fci","sc":"-16.17","p":"EMLERGLLV","ec":"1.6 x10⁻⁶"},{"r":5,"s":"fsq","sc":"-16.39","p":"FIVEGSMTA","ec":"NR"},{"r":6,"s":"fdi","sc":"-16.45","p":"ALVENQFLL","ec":"2.2 x10⁻⁶"},{"r":7,"s":"oci","sc":"-16.61","p":"MLIERVMST","ec":"5.6 x10⁻⁶"},{"r":8,"s":"ast","sc":"-16.78","p":"LIEERSPLI","ec":"6.1 x10⁻⁶"},{"r":9,"s":"bx","sc":"-16.80","p":"LQVIRILLA","ec":"2.6 x10⁻⁶"},{"r":10,"s":"cx","sc":"-16.93","p":"LLIIGGLLF","ec":"2.9 x10⁻⁷"},{"r":11,"s":"dag","sc":"-16.94","p":"LLEENSPML","ec":"5.0 x10⁻⁸"},{"r":12,"s":"sqd","sc":"-16.99","p":"LLVEDLLVL","ec":"2.0 x10⁻⁷"}
],
"t5": [
{"r":0,"s":"hdr","sc":"Score","p":"Peptide","ec":"EC₅₀"},
{"r":1,"s":"yy","sc":"-17.25","p":"FIIEGQLSI","ec":"NR"},{"r":2,"s":"osq","sc":"-17.39","p":"MQLEQFPAV","ec":"NR"},{"r":3,"s":"odi","sc":"-17.48","p":"FLTEWILPL","ec":"5.8 x10⁻⁶"},{"r":4,"s":"fci","sc":"-17.59","p":"LTVEGIFRV","ec":"1.6 x10⁻⁶"},{"r":5,"s":"fsq","sc":"-17.63","p":"ILLYGIMTT","ec":"NR"},{"r":6,"s":"fdi","sc":"-17.76","p":"IMPENMLTL","ec":"NR"},{"r":7,"s":"oci","sc":"-17.80","p":"LLIENFVTG","ec":"5.6 x10⁻⁶"},{"r":8,"s":"ast","sc":"-17.83","p":"STIENLMFL","ec":"NR"},{"r":9,"s":"bx","sc":"-17.87","p":"HIIENAYTT","ec":"NR"},{"r":10,"s":"cx","sc":"-17.90","p":"ILLYNVVLA","ec":"NR"},{"r":11,"s":"dag","sc":"-17.92","p":"LILQGVLTM","ec":"2.6 x10⁻⁶"},{"r":12,"s":"sqd","sc":"-17.99","p":"FTLENVPTS","ec":"NR"}
],
"t6": [
{"r":0,"s":"hdr","sc":"Score","p":"Peptide","ec":"EC₅₀"},
{"r":1,"s":"yy","sc":"-18.21","p":"SLVEDVPVA","ec":"~ 0.08"},{"r":2,"s":"osq","sc":"-18.26","p":"LLVYGTFLF","ec":"NR"},{"r":3,"s":"odi","sc":"-18.32","p":"FLAENGYIF","ec":"NR"},{"r":4,"s":"fci","sc":"-18.33","p":"SLMENILFG","ec":"NR"},{"r":5,"s":"fsq","sc":"-18.34","p":"IIVSGGLLI","ec":"NR"},{"r":6,"s":"fdi","sc":"-18.42","p":"LAIENTPFF","ec":"NR"},{"r":7,"s":"oci","sc":"-18.80","p":"ATLERFYAV","ec":"NR"},{"r":8,"s":"ast","sc":"-18.83","p":"LQVYTILLA","ec":"NR"},{"r":9,"s":"bx","sc":"-18.86","p":"ILIVGMLVL","ec":"~ 0.003"},{"r":10,"s":"cx","sc":"-18.86","p":"LIVEQRLPL","ec":"NR"},{"r":11,"s":"dag","sc":"-18.88","p":"LHIEGILVA","ec":"NR"},{"r":12,"s":"sqd","sc":"-19.00","p":"LLLVGVLVF","ec":"NR"}
]
},
"columns": 3,
"bounds": "flush",
"spacing": {"row": 10, "column": 10},
"resolve": {"scale": {"fill": "independent", "shape": "independent", "x": "independent", "y": "independent"}},
"concat": [
{
"width": 303, "height": 287,
"title": {"text": "Bin 1", "offset": -32, "anchor": "middle", "font": "Liberation Serif", "fontSize": 31, "fontWeight": "bold", "color": "#000"},
"data": {"name": "b1"},
"encoding": {
"x": {"field": "x", "type": "quantitative", "title": "[Peptide] Log₁₀ M ———►", "scale": {"domain": [-12.427, -4.824], "nice": false, "zero": false}, "axis": {"values": [-12,-11,-10,-9,-8,-7,-6,-5], "labelExpr": "'-' + abs(datum.value)", "titleAnchor": "start", "titleAlign": "left", "titlePadding": 6}},
"y": {"field": "y", "type": "quantitative", "title": null, "scale": {"domain": [-0.11, 3], "nice": false, "zero": false}, "axis": {"orient": "right", "values": [0,1,2,3], "labelExpr": "datum.value == 0 ? '0' : format(datum.value, '.1f')"}}
},
"layer": [
{"mark": {"type": "line", "color": "#1f45fc", "strokeWidth": 1, "interpolate": "monotone"}, "encoding": {"y": {"field": "f", "type": "quantitative", "title": null}, "detail": {"field": "s", "type": "nominal"}}},
{"transform": [{"filter": "datum.e > 0"}], "mark": {"type": "errorbar", "color": "#1f45fc", "thickness": 1, "ticks": {"size": 12}}, "encoding": {"yError": {"field": "e"}}},
{"mark": {"type": "point", "opacity": 1, "strokeWidth": 1.2, "size": 190}, "encoding": {
"shape": {"field": "s", "type": "nominal", "legend": null, "scale": {"domain": ["yy","osq","odi","fci","fsq","fdi","oci","ast","bx","cx","dag","sqd"], "range": ["M-1,0A1,1 0 1,1 1,0A1,1 0 1,1 -1,0ZM-0.78,0A0.78,0.78 0 1,0 0.78,0A0.78,0.78 0 1,0 -0.78,0ZM0,-0.78A0.78,0.78 0 0,1 0,0.78A0.39,0.39 0 0,1 0,0A0.39,0.39 0 0,0 0,-0.78ZM-0.13,-0.39A0.13,0.13 0 1,1 0.13,-0.39A0.13,0.13 0 1,1 -0.13,-0.39ZM-0.13,0.39A0.13,0.13 0 1,0 0.13,0.39A0.13,0.13 0 1,0 -0.13,0.39Z","M-1,-1H1V1H-1Z","M0,-1.25L1.25,0L0,1.25L-1.25,0Z","M-1,0A1,1 0 1,1 1,0A1,1 0 1,1 -1,0Z","M-1,-1H1V1H-1Z","M0,-1.25L1.25,0L0,1.25L-1.25,0Z","M-1,0A1,1 0 1,1 1,0A1,1 0 1,1 -1,0Z","M0,-1.15V1.15M-1,-0.58L1,0.58M-1,0.58L1,-0.58","M-1,-1H1V1H-1ZM-1,-1L1,1M-1,1L1,-1","M-1,0A1,1 0 1,1 1,0A1,1 0 1,1 -1,0ZM-0.7,-0.7L0.7,0.7M-0.7,0.7L0.7,-0.7","M0,-1.2V1.2M-0.6,-0.45H0.6","M-1,-1H1V1H-1ZM-0.82,-0.82V0.82H0.82V-0.82ZM-0.42,-0.42H0.42V0.42H-0.42Z"]}},
"fill": {"field": "s", "type": "nominal", "legend": null, "scale": {"domain": ["yy","osq","odi","fci","fsq","fdi","oci","ast","bx","cx","dag","sqd"], "range": ["#1f45fc","transparent","transparent","#1f45fc","#1f45fc","#1f45fc","transparent","transparent","transparent","transparent","transparent","#1f45fc"]}},
"stroke": {"value": "#1f45fc"}}},
{"data": {"name": "refc"}, "mark": {"type": "line", "color": "#ff2400", "strokeWidth": 3.2, "interpolate": "monotone"}, "encoding": {}},
{"data": {"name": "ref"}, "transform": [{"filter": "datum.e > 0"}], "mark": {"type": "errorbar", "color": "#ff2400", "thickness": 1, "ticks": {"size": 12}}, "encoding": {"yError": {"field": "e"}}},
{"data": {"name": "ref"}, "mark": {"type": "point", "shape": "circle", "filled": true, "color": "#ff2400", "opacity": 1, "size": 240}, "encoding": {}}
]
},
{
"width": 303, "height": 287,
"title": {"text": "Bin 2", "offset": -32, "anchor": "middle", "font": "Liberation Serif", "fontSize": 31, "fontWeight": "bold", "color": "#000"},
"data": {"name": "b2"},
"encoding": {
"x": {"field": "x", "type": "quantitative", "title": null, "scale": {"domain": [-12.426, -4.825], "nice": false, "zero": false}, "axis": {"values": [-12,-11,-10,-9,-8,-7,-6,-5], "labelExpr": "'-' + abs(datum.value)"}},
"y": {"field": "y", "type": "quantitative", "title": null, "scale": {"domain": [-0.11, 3], "nice": false, "zero": false}, "axis": {"orient": "right", "values": [0,1,2,3], "labelExpr": "datum.value == 0 ? '0' : format(datum.value, '.1f')"}}
},
"layer": [
{"mark": {"type": "line", "color": "#1a8f1a", "strokeWidth": 1, "interpolate": "monotone"}, "encoding": {"y": {"field": "f", "type": "quantitative", "title": null}, "detail": {"field": "s", "type": "nominal"}}},
{"transform": [{"filter": "datum.e > 0"}], "mark": {"type": "errorbar", "color": "#1a8f1a", "thickness": 1, "ticks": {"size": 12}}, "encoding": {"yError": {"field": "e"}}},
{"mark": {"type": "point", "opacity": 1, "strokeWidth": 1.2, "size": 190}, "encoding": {
"shape": {"field": "s", "type": "nominal", "legend": null, "scale": {"domain": ["yy","osq","odi","fci","fsq","fdi","oci","ast","bx","cx","dag","sqd"], "range": ["M-1,0A1,1 0 1,1 1,0A1,1 0 1,1 -1,0ZM-0.78,0A0.78,0.78 0 1,0 0.78,0A0.78,0.78 0 1,0 -0.78,0ZM0,-0.78A0.78,0.78 0 0,1 0,0.78A0.39,0.39 0 0,1 0,0A0.39,0.39 0 0,0 0,-0.78ZM-0.13,-0.39A0.13,0.13 0 1,1 0.13,-0.39A0.13,0.13 0 1,1 -0.13,-0.39ZM-0.13,0.39A0.13,0.13 0 1,0 0.13,0.39A0.13,0.13 0 1,0 -0.13,0.39Z","M-1,-1H1V1H-1Z","M0,-1.25L1.25,0L0,1.25L-1.25,0Z","M-1,0A1,1 0 1,1 1,0A1,1 0 1,1 -1,0Z","M-1,-1H1V1H-1Z","M0,-1.25L1.25,0L0,1.25L-1.25,0Z","M-1,0A1,1 0 1,1 1,0A1,1 0 1,1 -1,0Z","M0,-1.15V1.15M-1,-0.58L1,0.58M-1,0.58L1,-0.58","M-1,-1H1V1H-1ZM-1,-1L1,1M-1,1L1,-1","M-1,0A1,1 0 1,1 1,0A1,1 0 1,1 -1,0ZM-0.7,-0.7L0.7,0.7M-0.7,0.7L0.7,-0.7","M0,-1.2V1.2M-0.6,-0.45H0.6","M-1,-1H1V1H-1ZM-0.82,-0.82V0.82H0.82V-0.82ZM-0.42,-0.42H0.42V0.42H-0.42Z"]}},
"fill": {"field": "s", "type": "nominal", "legend": null, "scale": {"domain": ["yy","osq","odi","fci","fsq","fdi","oci","ast","bx","cx","dag","sqd"], "range": ["#1a8f1a","transparent","transparent","#1a8f1a","#1a8f1a","#1a8f1a","transparent","transparent","transparent","transparent","transparent","#1a8f1a"]}},
"stroke": {"value": "#1a8f1a"}}},
{"data": {"name": "refc"}, "mark": {"type": "line", "color": "#ff2400", "strokeWidth": 3.2, "interpolate": "monotone"}, "encoding": {}},
{"data": {"name": "ref"}, "transform": [{"filter": "datum.e > 0"}], "mark": {"type": "errorbar", "color": "#ff2400", "thickness": 1, "ticks": {"size": 12}}, "encoding": {"yError": {"field": "e"}}},
{"data": {"name": "ref"}, "mark": {"type": "point", "shape": "circle", "filled": true, "color": "#ff2400", "opacity": 1, "size": 240}, "encoding": {}}
]
},
{
"width": 298, "height": 287,
"title": {"text": "Bin 3", "offset": -32, "anchor": "middle", "font": "Liberation Serif", "fontSize": 31, "fontWeight": "bold", "color": "#000"},
"data": {"name": "b3"},
"encoding": {
"x": {"field": "x", "type": "quantitative", "title": null, "scale": {"domain": [-12.302, -4.8], "nice": false, "zero": false}, "axis": {"values": [-12,-11,-10,-9,-8,-7,-6,-5], "labelExpr": "'-' + abs(datum.value)"}},
"y": {"field": "y", "type": "quantitative", "title": "MIP-1β (ng/mL)", "scale": {"domain": [-0.11, 3], "nice": false, "zero": false}, "axis": {"orient": "right", "values": [0,1,2,3], "labelExpr": "datum.value == 0 ? '0' : format(datum.value, '.1f')", "titlePadding": 5}}
},
"layer": [
{"mark": {"type": "line", "color": "#8c3cf7", "strokeWidth": 1, "interpolate": "monotone"}, "encoding": {"y": {"field": "f", "type": "quantitative", "title": "MIP-1β (ng/mL)"}, "detail": {"field": "s", "type": "nominal"}}},
{"transform": [{"filter": "datum.e > 0"}], "mark": {"type": "errorbar", "color": "#8c3cf7", "thickness": 1, "ticks": {"size": 12}}, "encoding": {"yError": {"field": "e"}}},
{"mark": {"type": "point", "opacity": 1, "strokeWidth": 1.2, "size": 190}, "encoding": {
"shape": {"field": "s", "type": "nominal", "legend": null, "scale": {"domain": ["yy","osq","odi","fci","fsq","fdi","oci","ast","bx","cx","dag","sqd"], "range": ["M-1,0A1,1 0 1,1 1,0A1,1 0 1,1 -1,0ZM-0.78,0A0.78,0.78 0 1,0 0.78,0A0.78,0.78 0 1,0 -0.78,0ZM0,-0.78A0.78,0.78 0 0,1 0,0.78A0.39,0.39 0 0,1 0,0A0.39,0.39 0 0,0 0,-0.78ZM-0.13,-0.39A0.13,0.13 0 1,1 0.13,-0.39A0.13,0.13 0 1,1 -0.13,-0.39ZM-0.13,0.39A0.13,0.13 0 1,0 0.13,0.39A0.13,0.13 0 1,0 -0.13,0.39Z","M-1,-1H1V1H-1Z","M0,-1.25L1.25,0L0,1.25L-1.25,0Z","M-1,0A1,1 0 1,1 1,0A1,1 0 1,1 -1,0Z","M-1,-1H1V1H-1Z","M0,-1.25L1.25,0L0,1.25L-1.25,0Z","M-1,0A1,1 0 1,1 1,0A1,1 0 1,1 -1,0Z","M0,-1.15V1.15M-1,-0.58L1,0.58M-1,0.58L1,-0.58","M-1,-1H1V1H-1ZM-1,-1L1,1M-1,1L1,-1","M-1,0A1,1 0 1,1 1,0A1,1 0 1,1 -1,0ZM-0.7,-0.7L0.7,0.7M-0.7,0.7L0.7,-0.7","M0,-1.2V1.2M-0.6,-0.45H0.6","M-1,-1H1V1H-1ZM-0.82,-0.82V0.82H0.82V-0.82ZM-0.42,-0.42H0.42V0.42H-0.42Z"]}},
"fill": {"field": "s", "type": "nominal", "legend": null, "scale": {"domain": ["yy","osq","odi","fci","fsq","fdi","oci","ast","bx","cx","dag","sqd"], "range": ["#8c3cf7","transparent","transparent","#8c3cf7","#8c3cf7","#8c3cf7","transparent","transparent","transparent","transparent","transparent","#8c3cf7"]}},
"stroke": {"value": "#8c3cf7"}}},
{"data": {"name": "refc"}, "mark": {"type": "line", "color": "#ff2400", "strokeWidth": 3.2, "interpolate": "monotone"}, "encoding": {}},
{"data": {"name": "ref"}, "transform": [{"filter": "datum.e > 0"}], "mark": {"type": "errorbar", "color": "#ff2400", "thickness": 1, "ticks": {"size": 12}}, "encoding": {"yError": {"field": "e"}}},
{"data": {"name": "ref"}, "mark": {"type": "point", "shape": "circle", "filled": true, "color": "#ff2400", "opacity": 1, "size": 240}, "encoding": {}}
]
},
{
"width": 332, "height": 427,
"data": {"name": "t1"},
"encoding": {"y": {"field": "r", "type": "quantitative", "scale": {"domain": [-2.64, 13.23], "reverse": true, "nice": false, "zero": false}, "axis": null}},
"layer": [
{"transform": [{"filter": "datum.r > 0"}], "mark": {"type": "point", "opacity": 1, "strokeWidth": 2, "size": 400}, "encoding": {"x": {"datum": 0, "type": "quantitative", "scale": {"domain": [-0.076, 6.236], "nice": false, "zero": false}, "axis": null},
"shape": {"field": "s", "type": "nominal", "legend": null, "scale": {"domain": ["yy","osq","odi","fci","fsq","fdi","oci","ast","bx","cx","dag","sqd"], "range": ["M-1,0A1,1 0 1,1 1,0A1,1 0 1,1 -1,0ZM-0.78,0A0.78,0.78 0 1,0 0.78,0A0.78,0.78 0 1,0 -0.78,0ZM0,-0.78A0.78,0.78 0 0,1 0,0.78A0.39,0.39 0 0,1 0,0A0.39,0.39 0 0,0 0,-0.78ZM-0.13,-0.39A0.13,0.13 0 1,1 0.13,-0.39A0.13,0.13 0 1,1 -0.13,-0.39ZM-0.13,0.39A0.13,0.13 0 1,0 0.13,0.39A0.13,0.13 0 1,0 -0.13,0.39Z","M-1,-1H1V1H-1Z","M0,-1.25L1.25,0L0,1.25L-1.25,0Z","M-1,0A1,1 0 1,1 1,0A1,1 0 1,1 -1,0Z","M-1,-1H1V1H-1Z","M0,-1.25L1.25,0L0,1.25L-1.25,0Z","M-1,0A1,1 0 1,1 1,0A1,1 0 1,1 -1,0Z","M0,-1.15V1.15M-1,-0.58L1,0.58M-1,0.58L1,-0.58","M-1,-1H1V1H-1ZM-1,-1L1,1M-1,1L1,-1","M-1,0A1,1 0 1,1 1,0A1,1 0 1,1 -1,0ZM-0.7,-0.7L0.7,0.7M-0.7,0.7L0.7,-0.7","M0,-1.2V1.2M-0.6,-0.45H0.6","M-1,-1H1V1H-1ZM-0.82,-0.82V0.82H0.82V-0.82ZM-0.42,-0.42H0.42V0.42H-0.42Z"]}},
"fill": {"field": "s", "type": "nominal", "legend": null, "scale": {"domain": ["yy","osq","odi","fci","fsq","fdi","oci","ast","bx","cx","dag","sqd"], "range": ["#1f45fc","transparent","transparent","#1f45fc","#1f45fc","#1f45fc","transparent","transparent","transparent","transparent","transparent","#1f45fc"]}},
"stroke": {"value": "#1f45fc"}}},
{"transform": [{"filter": "datum.r > 0"}], "mark": {"type": "text", "align": "center", "baseline": "middle", "font": "Liberation Serif", "fontSize": 20}, "encoding": {"x": {"datum": 0.97, "type": "quantitative"}, "text": {"field": "sc"}}},
{"transform": [{"filter": "datum.r > 0"}], "mark": {"type": "text", "align": "center", "baseline": "middle", "font": "Liberation Mono", "fontSize": 21}, "encoding": {"x": {"datum": 2.95, "type": "quantitative"}, "text": {"field": "p"}}},
{"transform": [{"filter": "datum.r > 0"}], "mark": {"type": "text", "align": "center", "baseline": "middle", "font": "Liberation Serif", "fontSize": 20}, "encoding": {"x": {"datum": 5, "type": "quantitative"}, "text": {"field": "ec"}}},
{"transform": [{"filter": "datum.r == 0"}], "mark": {"type": "text", "align": "center", "baseline": "middle", "font": "Liberation Serif", "fontSize": 20, "fontWeight": "bold"}, "encoding": {"x": {"datum": 0.97, "type": "quantitative"}, "text": {"field": "sc"}}},
{"transform": [{"filter": "datum.r == 0"}], "mark": {"type": "text", "align": "center", "baseline": "middle", "font": "Liberation Serif", "fontSize": 20, "fontWeight": "bold"}, "encoding": {"x": {"datum": 2.95, "type": "quantitative"}, "text": {"field": "p"}}},
{"transform": [{"filter": "datum.r == 0"}], "mark": {"type": "text", "align": "center", "baseline": "middle", "font": "Liberation Serif", "fontSize": 20, "fontWeight": "bold"}, "encoding": {"x": {"datum": 5, "type": "quantitative"}, "text": {"field": "ec"}}}
]
},
{
"width": 333, "height": 427,
"data": {"name": "t2"},
"encoding": {"y": {"field": "r", "type": "quantitative", "scale": {"domain": [-2.64, 13.23], "reverse": true, "nice": false, "zero": false}, "axis": null}},
"layer": [
{"transform": [{"filter": "datum.r > 0"}], "mark": {"type": "point", "opacity": 1, "strokeWidth": 2, "size": 400}, "encoding": {"x": {"datum": 0, "type": "quantitative", "scale": {"domain": [-0.182, 5.873], "nice": false, "zero": false}, "axis": null},
"shape": {"field": "s", "type": "nominal", "legend": null, "scale": {"domain": ["yy","osq","odi","fci","fsq","fdi","oci","ast","bx","cx","dag","sqd"], "range": ["M-1,0A1,1 0 1,1 1,0A1,1 0 1,1 -1,0ZM-0.78,0A0.78,0.78 0 1,0 0.78,0A0.78,0.78 0 1,0 -0.78,0ZM0,-0.78A0.78,0.78 0 0,1 0,0.78A0.39,0.39 0 0,1 0,0A0.39,0.39 0 0,0 0,-0.78ZM-0.13,-0.39A0.13,0.13 0 1,1 0.13,-0.39A0.13,0.13 0 1,1 -0.13,-0.39ZM-0.13,0.39A0.13,0.13 0 1,0 0.13,0.39A0.13,0.13 0 1,0 -0.13,0.39Z","M-1,-1H1V1H-1Z","M0,-1.25L1.25,0L0,1.25L-1.25,0Z","M-1,0A1,1 0 1,1 1,0A1,1 0 1,1 -1,0Z","M-1,-1H1V1H-1Z","M0,-1.25L1.25,0L0,1.25L-1.25,0Z","M-1,0A1,1 0 1,1 1,0A1,1 0 1,1 -1,0Z","M0,-1.15V1.15M-1,-0.58L1,0.58M-1,0.58L1,-0.58","M-1,-1H1V1H-1ZM-1,-1L1,1M-1,1L1,-1","M-1,0A1,1 0 1,1 1,0A1,1 0 1,1 -1,0ZM-0.7,-0.7L0.7,0.7M-0.7,0.7L0.7,-0.7","M0,-1.2V1.2M-0.6,-0.45H0.6","M-1,-1H1V1H-1ZM-0.82,-0.82V0.82H0.82V-0.82ZM-0.42,-0.42H0.42V0.42H-0.42Z"]}},
"fill": {"field": "s", "type": "nominal", "legend": null, "scale": {"domain": ["yy","osq","odi","fci","fsq","fdi","oci","ast","bx","cx","dag","sqd"], "range": ["#1a8f1a","transparent","transparent","#1a8f1a","#1a8f1a","#1a8f1a","transparent","transparent","transparent","transparent","transparent","#1a8f1a"]}},
"stroke": {"value": "#1a8f1a"}}},
{"transform": [{"filter": "datum.r > 0"}], "mark": {"type": "text", "align": "center", "baseline": "middle", "font": "Liberation Serif", "fontSize": 20}, "encoding": {"x": {"datum": 0.96, "type": "quantitative"}, "text": {"field": "sc"}}},
{"transform": [{"filter": "datum.r > 0"}], "mark": {"type": "text", "align": "center", "baseline": "middle", "font": "Liberation Mono", "fontSize": 21}, "encoding": {"x": {"datum": 2.93, "type": "quantitative"}, "text": {"field": "p"}}},
{"transform": [{"filter": "datum.r > 0"}], "mark": {"type": "text", "align": "center", "baseline": "middle", "font": "Liberation Serif", "fontSize": 20}, "encoding": {"x": {"datum": 5, "type": "quantitative"}, "text": {"field": "ec"}}},
{"transform": [{"filter": "datum.r == 0"}], "mark": {"type": "text", "align": "center", "baseline": "middle", "font": "Liberation Serif", "fontSize": 20, "fontWeight": "bold"}, "encoding": {"x": {"datum": 0.96, "type": "quantitative"}, "text": {"field": "sc"}}},
{"transform": [{"filter": "datum.r == 0"}], "mark": {"type": "text", "align": "center", "baseline": "middle", "font": "Liberation Serif", "fontSize": 20, "fontWeight": "bold"}, "encoding": {"x": {"datum": 2.93, "type": "quantitative"}, "text": {"field": "p"}}},
{"transform": [{"filter": "datum.r == 0"}], "mark": {"type": "text", "align": "center", "baseline": "middle", "font": "Liberation Serif", "fontSize": 20, "fontWeight": "bold"}, "encoding": {"x": {"datum": 5, "type": "quantitative"}, "text": {"field": "ec"}}}
]
},
{
"width": 300, "height": 427,
"data": {"name": "t3"},
"encoding": {"y": {"field": "r", "type": "quantitative", "scale": {"domain": [-2.64, 13.23], "reverse": true, "nice": false, "zero": false}, "axis": null}},
"layer": [
{"transform": [{"filter": "datum.r > 0"}], "mark": {"type": "point", "opacity": 1, "strokeWidth": 2, "size": 400}, "encoding": {"x": {"datum": 0, "type": "quantitative", "scale": {"domain": [-0.441, 5.074], "nice": false, "zero": false}, "axis": null},
"shape": {"field": "s", "type": "nominal", "legend": null, "scale": {"domain": ["yy","osq","odi","fci","fsq","fdi","oci","ast","bx","cx","dag","sqd"], "range": ["M-1,0A1,1 0 1,1 1,0A1,1 0 1,1 -1,0ZM-0.78,0A0.78,0.78 0 1,0 0.78,0A0.78,0.78 0 1,0 -0.78,0ZM0,-0.78A0.78,0.78 0 0,1 0,0.78A0.39,0.39 0 0,1 0,0A0.39,0.39 0 0,0 0,-0.78ZM-0.13,-0.39A0.13,0.13 0 1,1 0.13,-0.39A0.13,0.13 0 1,1 -0.13,-0.39ZM-0.13,0.39A0.13,0.13 0 1,0 0.13,0.39A0.13,0.13 0 1,0 -0.13,0.39Z","M-1,-1H1V1H-1Z","M0,-1.25L1.25,0L0,1.25L-1.25,0Z","M-1,0A1,1 0 1,1 1,0A1,1 0 1,1 -1,0Z","M-1,-1H1V1H-1Z","M0,-1.25L1.25,0L0,1.25L-1.25,0Z","M-1,0A1,1 0 1,1 1,0A1,1 0 1,1 -1,0Z","M0,-1.15V1.15M-1,-0.58L1,0.58M-1,0.58L1,-0.58","M-1,-1H1V1H-1ZM-1,-1L1,1M-1,1L1,-1","M-1,0A1,1 0 1,1 1,0A1,1 0 1,1 -1,0ZM-0.7,-0.7L0.7,0.7M-0.7,0.7L0.7,-0.7","M0,-1.2V1.2M-0.6,-0.45H0.6","M-1,-1H1V1H-1ZM-0.82,-0.82V0.82H0.82V-0.82ZM-0.42,-0.42H0.42V0.42H-0.42Z"]}},
"fill": {"field": "s", "type": "nominal", "legend": null, "scale": {"domain": ["yy","osq","odi","fci","fsq","fdi","oci","ast","bx","cx","dag","sqd"], "range": ["#8c3cf7","transparent","transparent","#8c3cf7","#8c3cf7","#8c3cf7","transparent","transparent","transparent","transparent","transparent","#8c3cf7"]}},
"stroke": {"value": "#8c3cf7"}}},
{"transform": [{"filter": "datum.r > 0"}], "mark": {"type": "text", "align": "center", "baseline": "middle", "font": "Liberation Serif", "fontSize": 20}, "encoding": {"x": {"datum": 1.05, "type": "quantitative"}, "text": {"field": "sc"}}},
{"transform": [{"filter": "datum.r > 0"}], "mark": {"type": "text", "align": "center", "baseline": "middle", "font": "Liberation Mono", "fontSize": 21}, "encoding": {"x": {"datum": 2.89, "type": "quantitative"}, "text": {"field": "p"}}},
{"transform": [{"filter": "datum.r > 0"}], "mark": {"type": "text", "align": "center", "baseline": "middle", "font": "Liberation Serif", "fontSize": 20}, "encoding": {"x": {"datum": 5, "type": "quantitative"}, "text": {"field": "ec"}}},
{"transform": [{"filter": "datum.r == 0"}], "mark": {"type": "text", "align": "center", "baseline": "middle", "font": "Liberation Serif", "fontSize": 20, "fontWeight": "bold"}, "encoding": {"x": {"datum": 1.05, "type": "quantitative"}, "text": {"field": "sc"}}},
{"transform": [{"filter": "datum.r == 0"}], "mark": {"type": "text", "align": "center", "baseline": "middle", "font": "Liberation Serif", "fontSize": 20, "fontWeight": "bold"}, "encoding": {"x": {"datum": 2.89, "type": "quantitative"}, "text": {"field": "p"}}},
{"transform": [{"filter": "datum.r == 0"}], "mark": {"type": "text", "align": "center", "baseline": "middle", "font": "Liberation Serif", "fontSize": 20, "fontWeight": "bold"}, "encoding": {"x": {"datum": 5, "type": "quantitative"}, "text": {"field": "ec"}}}
]
},
{
"width": 299, "height": 290,
"title": {"text": "Bin 4", "offset": -38, "anchor": "middle", "font": "Liberation Serif", "fontSize": 31, "fontWeight": "bold", "color": "#000"},
"data": {"name": "b4"},
"encoding": {
"x": {"field": "x", "type": "quantitative", "title": "[Peptide] Log₁₀ M ———►", "scale": {"domain": [-12.2, -4.725], "nice": false, "zero": false}, "axis": {"values": [-12,-11,-10,-9,-8,-7,-6,-5], "labelExpr": "'-' + abs(datum.value)", "titleAnchor": "start", "titleAlign": "left", "titlePadding": 6}},
"y": {"field": "y", "type": "quantitative", "title": null, "scale": {"domain": [-0.11, 3], "nice": false, "zero": false}, "axis": {"orient": "right", "values": [0,1,2,3], "labelExpr": "datum.value == 0 ? '0' : format(datum.value, '.1f')"}}
},
"layer": [
{"mark": {"type": "line", "color": "#1f9cf0", "strokeWidth": 1, "interpolate": "monotone"}, "encoding": {"y": {"field": "f", "type": "quantitative", "title": null}, "detail": {"field": "s", "type": "nominal"}}},
{"transform": [{"filter": "datum.e > 0"}], "mark": {"type": "errorbar", "color": "#1f9cf0", "thickness": 1, "ticks": {"size": 12}}, "encoding": {"yError": {"field": "e"}}},
{"mark": {"type": "point", "opacity": 1, "strokeWidth": 1.2, "size": 190}, "encoding": {
"shape": {"field": "s", "type": "nominal", "legend": null, "scale": {"domain": ["yy","osq","odi","fci","fsq","fdi","oci","ast","bx","cx","dag","sqd"], "range": ["M-1,0A1,1 0 1,1 1,0A1,1 0 1,1 -1,0ZM-0.78,0A0.78,0.78 0 1,0 0.78,0A0.78,0.78 0 1,0 -0.78,0ZM0,-0.78A0.78,0.78 0 0,1 0,0.78A0.39,0.39 0 0,1 0,0A0.39,0.39 0 0,0 0,-0.78ZM-0.13,-0.39A0.13,0.13 0 1,1 0.13,-0.39A0.13,0.13 0 1,1 -0.13,-0.39ZM-0.13,0.39A0.13,0.13 0 1,0 0.13,0.39A0.13,0.13 0 1,0 -0.13,0.39Z","M-1,-1H1V1H-1Z","M0,-1.25L1.25,0L0,1.25L-1.25,0Z","M-1,0A1,1 0 1,1 1,0A1,1 0 1,1 -1,0Z","M-1,-1H1V1H-1Z","M0,-1.25L1.25,0L0,1.25L-1.25,0Z","M-1,0A1,1 0 1,1 1,0A1,1 0 1,1 -1,0Z","M0,-1.15V1.15M-1,-0.58L1,0.58M-1,0.58L1,-0.58","M-1,-1H1V1H-1ZM-1,-1L1,1M-1,1L1,-1","M-1,0A1,1 0 1,1 1,0A1,1 0 1,1 -1,0ZM-0.7,-0.7L0.7,0.7M-0.7,0.7L0.7,-0.7","M0,-1.2V1.2M-0.6,-0.45H0.6","M-1,-1H1V1H-1ZM-0.82,-0.82V0.82H0.82V-0.82ZM-0.42,-0.42H0.42V0.42H-0.42Z"]}},
"fill": {"field": "s", "type": "nominal", "legend": null, "scale": {"domain": ["yy","osq","odi","fci","fsq","fdi","oci","ast","bx","cx","dag","sqd"], "range": ["#1f9cf0","transparent","transparent","#1f9cf0","#1f9cf0","#1f9cf0","transparent","transparent","transparent","transparent","transparent","#1f9cf0"]}},
"stroke": {"value": "#1f9cf0"}}},
{"data": {"name": "refc"}, "mark": {"type": "line", "color": "#ff2400", "strokeWidth": 3.2, "interpolate": "monotone"}, "encoding": {}},
{"data": {"name": "ref"}, "transform": [{"filter": "datum.e > 0"}], "mark": {"type": "errorbar", "color": "#ff2400", "thickness": 1, "ticks": {"size": 12}}, "encoding": {"yError": {"field": "e"}}},
{"data": {"name": "ref"}, "mark": {"type": "point", "shape": "circle", "filled": true, "color": "#ff2400", "opacity": 1, "size": 240}, "encoding": {}}
]
},
{
"width": 299, "height": 290,
"title": {"text": "Bin 5", "offset": -38, "anchor": "middle", "font": "Liberation Serif", "fontSize": 31, "fontWeight": "bold", "color": "#000"},
"data": {"name": "b5"},
"encoding": {
"x": {"field": "x", "type": "quantitative", "title": null, "scale": {"domain": [-12.206, -4.486], "nice": false, "zero": false}, "axis": {"values": [-12,-11,-10,-9,-8,-7,-6,-5], "labelExpr": "'-' + abs(datum.value)"}},
"y": {"field": "y", "type": "quantitative", "title": null, "scale": {"domain": [-0.11, 3], "nice": false, "zero": false}, "axis": {"orient": "right", "values": [0,1,2,3], "labelExpr": "datum.value == 0 ? '0' : format(datum.value, '.1f')"}}
},
"layer": [
{"mark": {"type": "line", "color": "#ff7d7d", "strokeWidth": 1, "interpolate": "monotone"}, "encoding": {"y": {"field": "f", "type": "quantitative", "title": null}, "detail": {"field": "s", "type": "nominal"}}},
{"transform": [{"filter": "datum.e > 0"}], "mark": {"type": "errorbar", "color": "#ff7d7d", "thickness": 1, "ticks": {"size": 12}}, "encoding": {"yError": {"field": "e"}}},
{"mark": {"type": "point", "opacity": 1, "strokeWidth": 1.2, "size": 190}, "encoding": {
"shape": {"field": "s", "type": "nominal", "legend": null, "scale": {"domain": ["yy","osq","odi","fci","fsq","fdi","oci","ast","bx","cx","dag","sqd"], "range": ["M-1,0A1,1 0 1,1 1,0A1,1 0 1,1 -1,0ZM-0.78,0A0.78,0.78 0 1,0 0.78,0A0.78,0.78 0 1,0 -0.78,0ZM0,-0.78A0.78,0.78 0 0,1 0,0.78A0.39,0.39 0 0,1 0,0A0.39,0.39 0 0,0 0,-0.78ZM-0.13,-0.39A0.13,0.13 0 1,1 0.13,-0.39A0.13,0.13 0 1,1 -0.13,-0.39ZM-0.13,0.39A0.13,0.13 0 1,0 0.13,0.39A0.13,0.13 0 1,0 -0.13,0.39Z","M-1,-1H1V1H-1Z","M0,-1.25L1.25,0L0,1.25L-1.25,0Z","M-1,0A1,1 0 1,1 1,0A1,1 0 1,1 -1,0Z","M-1,-1H1V1H-1Z","M0,-1.25L1.25,0L0,1.25L-1.25,0Z","M-1,0A1,1 0 1,1 1,0A1,1 0 1,1 -1,0Z","M0,-1.15V1.15M-1,-0.58L1,0.58M-1,0.58L1,-0.58","M-1,-1H1V1H-1ZM-1,-1L1,1M-1,1L1,-1","M-1,0A1,1 0 1,1 1,0A1,1 0 1,1 -1,0ZM-0.7,-0.7L0.7,0.7M-0.7,0.7L0.7,-0.7","M0,-1.2V1.2M-0.6,-0.45H0.6","M-1,-1H1V1H-1ZM-0.82,-0.82V0.82H0.82V-0.82ZM-0.42,-0.42H0.42V0.42H-0.42Z"]}},
"fill": {"field": "s", "type": "nominal", "legend": null, "scale": {"domain": ["yy","osq","odi","fci","fsq","fdi","oci","ast","bx","cx","dag","sqd"], "range": ["#ff7d7d","transparent","transparent","#ff7d7d","#ff7d7d","#ff7d7d","transparent","transparent","transparent","transparent","transparent","#ff7d7d"]}},
"stroke": {"value": "#ff7d7d"}}},
{"data": {"name": "refc"}, "mark": {"type": "line", "color": "#ff2400", "strokeWidth": 3.2, "interpolate": "monotone"}, "encoding": {}},
{"data": {"name": "ref"}, "transform": [{"filter": "datum.e > 0"}], "mark": {"type": "errorbar", "color": "#ff2400", "thickness": 1, "ticks": {"size": 12}}, "encoding": {"yError": {"field": "e"}}},
{"data": {"name": "ref"}, "mark": {"type": "point", "shape": "circle", "filled": true, "color": "#ff2400", "opacity": 1, "size": 240}, "encoding": {}}
]
},
{
"width": 297, "height": 290,
"title": {"text": "Bin 6", "offset": -38, "anchor": "middle", "font": "Liberation Serif", "fontSize": 31, "fontWeight": "bold", "color": "#000"},
"data": {"name": "b6"},
"encoding": {
"x": {"field": "x", "type": "quantitative", "title": null, "scale": {"domain": [-12.233, -4.534], "nice": false, "zero": false}, "axis": {"values": [-12,-11,-10,-9,-8,-7,-6,-5], "labelExpr": "'-' + abs(datum.value)"}},
"y": {"field": "y", "type": "quantitative", "title": "MIP-1β (ng/mL)", "scale": {"domain": [-0.094, 2], "nice": false, "zero": false}, "axis": {"orient": "right", "values": [0,1,2], "labelExpr": "datum.value == 0 ? '0' : format(datum.value, '.1f')", "titlePadding": 5}}
},
"layer": [
{"mark": {"type": "line", "color": "#ff9922", "strokeWidth": 1, "interpolate": "monotone"}, "encoding": {"y": {"field": "f", "type": "quantitative", "title": "MIP-1β (ng/mL)"}, "detail": {"field": "s", "type": "nominal"}}},
{"transform": [{"filter": "datum.e > 0"}], "mark": {"type": "errorbar", "color": "#ff9922", "thickness": 1, "ticks": {"size": 12}}, "encoding": {"yError": {"field": "e"}}},
{"mark": {"type": "point", "opacity": 1, "strokeWidth": 1.2, "size": 190}, "encoding": {
"shape": {"field": "s", "type": "nominal", "legend": null, "scale": {"domain": ["yy","osq","odi","fci","fsq","fdi","oci","ast","bx","cx","dag","sqd"], "range": ["M-1,0A1,1 0 1,1 1,0A1,1 0 1,1 -1,0ZM-0.78,0A0.78,0.78 0 1,0 0.78,0A0.78,0.78 0 1,0 -0.78,0ZM0,-0.78A0.78,0.78 0 0,1 0,0.78A0.39,0.39 0 0,1 0,0A0.39,0.39 0 0,0 0,-0.78ZM-0.13,-0.39A0.13,0.13 0 1,1 0.13,-0.39A0.13,0.13 0 1,1 -0.13,-0.39ZM-0.13,0.39A0.13,0.13 0 1,0 0.13,0.39A0.13,0.13 0 1,0 -0.13,0.39Z","M-1,-1H1V1H-1Z","M0,-1.25L1.25,0L0,1.25L-1.25,0Z","M-1,0A1,1 0 1,1 1,0A1,1 0 1,1 -1,0Z","M-1,-1H1V1H-1Z","M0,-1.25L1.25,0L0,1.25L-1.25,0Z","M-1,0A1,1 0 1,1 1,0A1,1 0 1,1 -1,0Z","M0,-1.15V1.15M-1,-0.58L1,0.58M-1,0.58L1,-0.58","M-1,-1H1V1H-1ZM-1,-1L1,1M-1,1L1,-1","M-1,0A1,1 0 1,1 1,0A1,1 0 1,1 -1,0ZM-0.7,-0.7L0.7,0.7M-0.7,0.7L0.7,-0.7","M0,-1.2V1.2M-0.6,-0.45H0.6","M-1,-1H1V1H-1ZM-0.82,-0.82V0.82H0.82V-0.82ZM-0.42,-0.42H0.42V0.42H-0.42Z"]}},
"fill": {"field": "s", "type": "nominal", "legend": null, "scale": {"domain": ["yy","osq","odi","fci","fsq","fdi","oci","ast","bx","cx","dag","sqd"], "range": ["#ff9922","transparent","transparent","#ff9922","#ff9922","#ff9922","transparent","transparent","transparent","transparent","transparent","#ff9922"]}},
"stroke": {"value": "#ff9922"}}},
{"data": {"name": "refc6"}, "mark": {"type": "line", "color": "#ff2400", "strokeWidth": 3.2, "interpolate": "monotone"}, "encoding": {}},
{"data": {"name": "ref6"}, "transform": [{"filter": "datum.e > 0"}], "mark": {"type": "errorbar", "color": "#ff2400", "thickness": 1, "ticks": {"size": 12}}, "encoding": {"yError": {"field": "e"}}},
{"data": {"name": "ref6"}, "mark": {"type": "point", "shape": "circle", "filled": true, "color": "#ff2400", "opacity": 1, "size": 240}, "encoding": {}}
]
},
{
"width": 332, "height": 412,
"data": {"name": "t4"},
"encoding": {"y": {"field": "r", "type": "quantitative", "scale": {"domain": [-2.825, 12.49], "reverse": true, "nice": false, "zero": false}, "axis": null}},
"layer": [
{"transform": [{"filter": "datum.r > 0"}], "mark": {"type": "point", "opacity": 1, "strokeWidth": 2, "size": 400}, "encoding": {"x": {"datum": 0, "type": "quantitative", "scale": {"domain": [-0.175, 6.284], "nice": false, "zero": false}, "axis": null},
"shape": {"field": "s", "type": "nominal", "legend": null, "scale": {"domain": ["yy","osq","odi","fci","fsq","fdi","oci","ast","bx","cx","dag","sqd"], "range": ["M-1,0A1,1 0 1,1 1,0A1,1 0 1,1 -1,0ZM-0.78,0A0.78,0.78 0 1,0 0.78,0A0.78,0.78 0 1,0 -0.78,0ZM0,-0.78A0.78,0.78 0 0,1 0,0.78A0.39,0.39 0 0,1 0,0A0.39,0.39 0 0,0 0,-0.78ZM-0.13,-0.39A0.13,0.13 0 1,1 0.13,-0.39A0.13,0.13 0 1,1 -0.13,-0.39ZM-0.13,0.39A0.13,0.13 0 1,0 0.13,0.39A0.13,0.13 0 1,0 -0.13,0.39Z","M-1,-1H1V1H-1Z","M0,-1.25L1.25,0L0,1.25L-1.25,0Z","M-1,0A1,1 0 1,1 1,0A1,1 0 1,1 -1,0Z","M-1,-1H1V1H-1Z","M0,-1.25L1.25,0L0,1.25L-1.25,0Z","M-1,0A1,1 0 1,1 1,0A1,1 0 1,1 -1,0Z","M0,-1.15V1.15M-1,-0.58L1,0.58M-1,0.58L1,-0.58","M-1,-1H1V1H-1ZM-1,-1L1,1M-1,1L1,-1","M-1,0A1,1 0 1,1 1,0A1,1 0 1,1 -1,0ZM-0.7,-0.7L0.7,0.7M-0.7,0.7L0.7,-0.7","M0,-1.2V1.2M-0.6,-0.45H0.6","M-1,-1H1V1H-1ZM-0.82,-0.82V0.82H0.82V-0.82ZM-0.42,-0.42H0.42V0.42H-0.42Z"]}},
"fill": {"field": "s", "type": "nominal", "legend": null, "scale": {"domain": ["yy","osq","odi","fci","fsq","fdi","oci","ast","bx","cx","dag","sqd"], "range": ["#1f9cf0","transparent","transparent","#1f9cf0","#1f9cf0","#1f9cf0","transparent","transparent","transparent","transparent","transparent","#1f9cf0"]}},
"stroke": {"value": "#1f9cf0"}}},
{"transform": [{"filter": "datum.r > 0"}], "mark": {"type": "text", "align": "center", "baseline": "middle", "font": "Liberation Serif", "fontSize": 20}, "encoding": {"x": {"datum": 0.93, "type": "quantitative"}, "text": {"field": "sc"}}},
{"transform": [{"filter": "datum.r > 0"}], "mark": {"type": "text", "align": "center", "baseline": "middle", "font": "Liberation Mono", "fontSize": 21}, "encoding": {"x": {"datum": 2.84, "type": "quantitative"}, "text": {"field": "p"}}},
{"transform": [{"filter": "datum.r > 0"}], "mark": {"type": "text", "align": "center", "baseline": "middle", "font": "Liberation Serif", "fontSize": 20}, "encoding": {"x": {"datum": 5, "type": "quantitative"}, "text": {"field": "ec"}}},
{"transform": [{"filter": "datum.r == 0"}], "mark": {"type": "text", "align": "center", "baseline": "middle", "font": "Liberation Serif", "fontSize": 20, "fontWeight": "bold"}, "encoding": {"x": {"datum": 0.93, "type": "quantitative"}, "text": {"field": "sc"}}},
{"transform": [{"filter": "datum.r == 0"}], "mark": {"type": "text", "align": "center", "baseline": "middle", "font": "Liberation Serif", "fontSize": 20, "fontWeight": "bold"}, "encoding": {"x": {"datum": 2.84, "type": "quantitative"}, "text": {"field": "p"}}},
{"transform": [{"filter": "datum.r == 0"}], "mark": {"type": "text", "align": "center", "baseline": "middle", "font": "Liberation Serif", "fontSize": 20, "fontWeight": "bold"}, "encoding": {"x": {"datum": 5, "type": "quantitative"}, "text": {"field": "ec"}}}
]
},
{
"width": 333, "height": 412,
"data": {"name": "t5"},
"encoding": {"y": {"field": "r", "type": "quantitative", "scale": {"domain": [-2.825, 12.49], "reverse": true, "nice": false, "zero": false}, "axis": null}},
"layer": [
{"transform": [{"filter": "datum.r > 0"}], "mark": {"type": "point", "opacity": 1, "strokeWidth": 2, "size": 400}, "encoding": {"x": {"datum": 0, "type": "quantitative", "scale": {"domain": [-0.244, 6.015], "nice": false, "zero": false}, "axis": null},
"shape": {"field": "s", "type": "nominal", "legend": null, "scale": {"domain": ["yy","osq","odi","fci","fsq","fdi","oci","ast","bx","cx","dag","sqd"], "range": ["M-1,0A1,1 0 1,1 1,0A1,1 0 1,1 -1,0ZM-0.78,0A0.78,0.78 0 1,0 0.78,0A0.78,0.78 0 1,0 -0.78,0ZM0,-0.78A0.78,0.78 0 0,1 0,0.78A0.39,0.39 0 0,1 0,0A0.39,0.39 0 0,0 0,-0.78ZM-0.13,-0.39A0.13,0.13 0 1,1 0.13,-0.39A0.13,0.13 0 1,1 -0.13,-0.39ZM-0.13,0.39A0.13,0.13 0 1,0 0.13,0.39A0.13,0.13 0 1,0 -0.13,0.39Z","M-1,-1H1V1H-1Z","M0,-1.25L1.25,0L0,1.25L-1.25,0Z","M-1,0A1,1 0 1,1 1,0A1,1 0 1,1 -1,0Z","M-1,-1H1V1H-1Z","M0,-1.25L1.25,0L0,1.25L-1.25,0Z","M-1,0A1,1 0 1,1 1,0A1,1 0 1,1 -1,0Z","M0,-1.15V1.15M-1,-0.58L1,0.58M-1,0.58L1,-0.58","M-1,-1H1V1H-1ZM-1,-1L1,1M-1,1L1,-1","M-1,0A1,1 0 1,1 1,0A1,1 0 1,1 -1,0ZM-0.7,-0.7L0.7,0.7M-0.7,0.7L0.7,-0.7","M0,-1.2V1.2M-0.6,-0.45H0.6","M-1,-1H1V1H-1ZM-0.82,-0.82V0.82H0.82V-0.82ZM-0.42,-0.42H0.42V0.42H-0.42Z"]}},
"fill": {"field": "s", "type": "nominal", "legend": null, "scale": {"domain": ["yy","osq","odi","fci","fsq","fdi","oci","ast","bx","cx","dag","sqd"], "range": ["#ff7d7d","transparent","transparent","#ff7d7d","#ff7d7d","#ff7d7d","transparent","transparent","transparent","transparent","transparent","#ff7d7d"]}},
"stroke": {"value": "#ff7d7d"}}},
{"transform": [{"filter": "datum.r > 0"}], "mark": {"type": "text", "align": "center", "baseline": "middle", "font": "Liberation Serif", "fontSize": 20}, "encoding": {"x": {"datum": 1.02, "type": "quantitative"}, "text": {"field": "sc"}}},
{"transform": [{"filter": "datum.r > 0"}], "mark": {"type": "text", "align": "center", "baseline": "middle", "font": "Liberation Mono", "fontSize": 21}, "encoding": {"x": {"datum": 3.01, "type": "quantitative"}, "text": {"field": "p"}}},
{"transform": [{"filter": "datum.r > 0"}], "mark": {"type": "text", "align": "center", "baseline": "middle", "font": "Liberation Serif", "fontSize": 20}, "encoding": {"x": {"datum": 5, "type": "quantitative"}, "text": {"field": "ec"}}},
{"transform": [{"filter": "datum.r == 0"}], "mark": {"type": "text", "align": "center", "baseline": "middle", "font": "Liberation Serif", "fontSize": 20, "fontWeight": "bold"}, "encoding": {"x": {"datum": 1.02, "type": "quantitative"}, "text": {"field": "sc"}}},
{"transform": [{"filter": "datum.r == 0"}], "mark": {"type": "text", "align": "center", "baseline": "middle", "font": "Liberation Serif", "fontSize": 20, "fontWeight": "bold"}, "encoding": {"x": {"datum": 3.01, "type": "quantitative"}, "text": {"field": "p"}}},
{"transform": [{"filter": "datum.r == 0"}], "mark": {"type": "text", "align": "center", "baseline": "middle", "font": "Liberation Serif", "fontSize": 20, "fontWeight": "bold"}, "encoding": {"x": {"datum": 5, "type": "quantitative"}, "text": {"field": "ec"}}}
]
},
{
"width": 300, "height": 412,
"data": {"name": "t6"},
"encoding": {"y": {"field": "r", "type": "quantitative", "scale": {"domain": [-2.825, 12.49], "reverse": true, "nice": false, "zero": false}, "axis": null}},
"layer": [
{"transform": [{"filter": "datum.r > 0"}], "mark": {"type": "point", "opacity": 1, "strokeWidth": 2, "size": 400}, "encoding": {"x": {"datum": 0, "type": "quantitative", "scale": {"domain": [-0.365, 5.404], "nice": false, "zero": false}, "axis": null},
"shape": {"field": "s", "type": "nominal", "legend": null, "scale": {"domain": ["yy","osq","odi","fci","fsq","fdi","oci","ast","bx","cx","dag","sqd"], "range": ["M-1,0A1,1 0 1,1 1,0A1,1 0 1,1 -1,0ZM-0.78,0A0.78,0.78 0 1,0 0.78,0A0.78,0.78 0 1,0 -0.78,0ZM0,-0.78A0.78,0.78 0 0,1 0,0.78A0.39,0.39 0 0,1 0,0A0.39,0.39 0 0,0 0,-0.78ZM-0.13,-0.39A0.13,0.13 0 1,1 0.13,-0.39A0.13,0.13 0 1,1 -0.13,-0.39ZM-0.13,0.39A0.13,0.13 0 1,0 0.13,0.39A0.13,0.13 0 1,0 -0.13,0.39Z","M-1,-1H1V1H-1Z","M0,-1.25L1.25,0L0,1.25L-1.25,0Z","M-1,0A1,1 0 1,1 1,0A1,1 0 1,1 -1,0Z","M-1,-1H1V1H-1Z","M0,-1.25L1.25,0L0,1.25L-1.25,0Z","M-1,0A1,1 0 1,1 1,0A1,1 0 1,1 -1,0Z","M0,-1.15V1.15M-1,-0.58L1,0.58M-1,0.58L1,-0.58","M-1,-1H1V1H-1ZM-1,-1L1,1M-1,1L1,-1","M-1,0A1,1 0 1,1 1,0A1,1 0 1,1 -1,0ZM-0.7,-0.7L0.7,0.7M-0.7,0.7L0.7,-0.7","M0,-1.2V1.2M-0.6,-0.45H0.6","M-1,-1H1V1H-1ZM-0.82,-0.82V0.82H0.82V-0.82ZM-0.42,-0.42H0.42V0.42H-0.42Z"]}},
"fill": {"field": "s", "type": "nominal", "legend": null, "scale": {"domain": ["yy","osq","odi","fci","fsq","fdi","oci","ast","bx","cx","dag","sqd"], "range": ["#ff9922","transparent","transparent","#ff9922","#ff9922","#ff9922","transparent","transparent","transparent","transparent","transparent","#ff9922"]}},
"stroke": {"value": "#ff9922"}}},
{"transform": [{"filter": "datum.r > 0"}], "mark": {"type": "text", "align": "center", "baseline": "middle", "font": "Liberation Serif", "fontSize": 20}, "encoding": {"x": {"datum": 0.96, "type": "quantitative"}, "text": {"field": "sc"}}},
{"transform": [{"filter": "datum.r > 0"}], "mark": {"type": "text", "align": "center", "baseline": "middle", "font": "Liberation Mono", "fontSize": 21}, "encoding": {"x": {"datum": 2.98, "type": "quantitative"}, "text": {"field": "p"}}},
{"transform": [{"filter": "datum.r > 0"}], "mark": {"type": "text", "align": "center", "baseline": "middle", "font": "Liberation Serif", "fontSize": 20}, "encoding": {"x": {"datum": 5, "type": "quantitative"}, "text": {"field": "ec"}}},
{"transform": [{"filter": "datum.r == 0"}], "mark": {"type": "text", "align": "center", "baseline": "middle", "font": "Liberation Serif", "fontSize": 20, "fontWeight": "bold"}, "encoding": {"x": {"datum": 0.96, "type": "quantitative"}, "text": {"field": "sc"}}},
{"transform": [{"filter": "datum.r == 0"}], "mark": {"type": "text", "align": "center", "baseline": "middle", "font": "Liberation Serif", "fontSize": 20, "fontWeight": "bold"}, "encoding": {"x": {"datum": 2.98, "type": "quantitative"}, "text": {"field": "p"}}},
{"transform": [{"filter": "datum.r == 0"}], "mark": {"type": "text", "align": "center", "baseline": "middle", "font": "Liberation Serif", "fontSize": 20, "fontWeight": "bold"}, "encoding": {"x": {"datum": 5, "type": "quantitative"}, "text": {"field": "ec"}}}
]
},
{
"width": 332, "height": 52,
"data": {"values": [{"k": "box"}]},
"encoding": {"y": {"datum": 0.5, "type": "quantitative", "scale": {"domain": [0, 1], "nice": false, "zero": false}, "axis": null}},
"layer": [
{"mark": {"type": "rect", "fill": "transparent", "stroke": "#7a7a7a", "strokeWidth": 1.5}, "encoding": {"x": {"datum": -155.5, "type": "quantitative", "scale": {"domain": [0, 332], "nice": false, "zero": false}, "axis": null}, "x2": {"datum": 1193}, "y": {"datum": -1.5, "type": "quantitative"}, "y2": {"datum": 29.47}}},
{"mark": {"type": "rect", "fill": "transparent", "stroke": "#000", "strokeWidth": 1.5}, "encoding": {"x": {"datum": -6, "type": "quantitative"}, "x2": {"datum": 639}, "y": {"datum": 0, "type": "quantitative"}, "y2": {"datum": 1}}},
{"mark": {"type": "point", "shape": "circle", "filled": true, "color": "#ff2400", "opacity": 1, "size": 400}, "encoding": {"x": {"datum": 17, "type": "quantitative"}}},
{"mark": {"type": "text", "text": "HLVEALYLV", "align": "left", "baseline": "middle", "font": "Liberation Mono", "fontSize": 21, "color": "#ff2400"}, "encoding": {"x": {"datum": 37, "type": "quantitative"}}},
{"mark": {"type": "text", "text": "Score: -24.60. EC₅₀:", "align": "left", "baseline": "middle", "font": "Liberation Serif", "fontSize": 19}, "encoding": {"x": {"datum": 159, "type": "quantitative"}}},
{"mark": {"type": "text", "text": "Bins 4-5", "align": "left", "baseline": "middle", "font": "Liberation Serif", "fontSize": 19, "fontWeight": "bold"}, "encoding": {"x": {"datum": 318, "type": "quantitative"}}},
{"mark": {"type": "text", "text": "3.9 x10⁻⁷,", "align": "left", "baseline": "middle", "font": "Liberation Serif", "fontSize": 19}, "encoding": {"x": {"datum": 408, "type": "quantitative"}}},
{"mark": {"type": "text", "text": "Bin 6", "align": "left", "baseline": "middle", "font": "Liberation Serif", "fontSize": 19, "fontWeight": "bold"}, "encoding": {"x": {"datum": 489, "type": "quantitative"}}},
{"mark": {"type": "text", "text": "2.0 x10⁻⁷", "align": "left", "baseline": "middle", "font": "Liberation Serif", "fontSize": 19}, "encoding": {"x": {"datum": 549, "type": "quantitative"}}}
]
}
]
}
